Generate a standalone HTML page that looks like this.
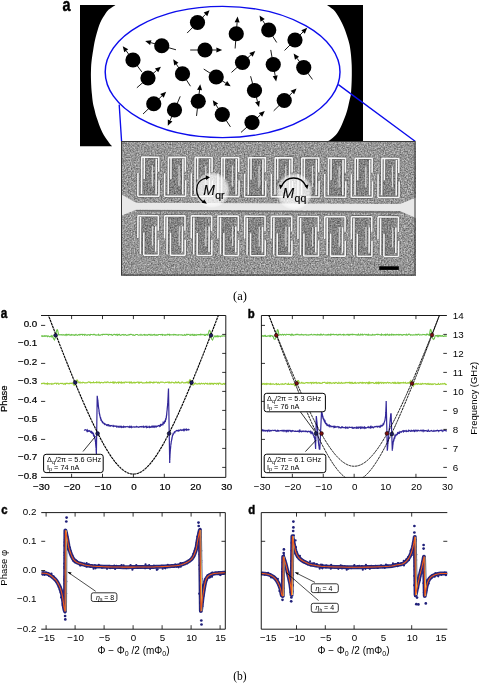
<!DOCTYPE html>
<html><head><meta charset="utf-8"><style>
html,body{margin:0;padding:0;background:#fff;width:480px;height:684px;overflow:hidden}
svg{display:block;will-change:transform}

</style></head><body>
<svg width="480" height="684" viewBox="0 0 480 684">
<defs>
<filter id="noise" x="0" y="0" width="100%" height="100%" color-interpolation-filters="sRGB">
<feTurbulence type="fractalNoise" baseFrequency="0.7" numOctaves="2" seed="4" result="t0"/><feGaussianBlur in="t0" stdDeviation="0.35" result="t"/>
<feColorMatrix in="t" type="matrix" values="1 0 0 0 0  1 0 0 0 0  1 0 0 0 0  0 0 0 0 1" result="g"/>
<feComponentTransfer in="g"><feFuncR type="linear" slope="0.68" intercept="0.25"/><feFuncG type="linear" slope="0.68" intercept="0.25"/><feFuncB type="linear" slope="0.68" intercept="0.25"/></feComponentTransfer>
</filter>
<radialGradient id="glow"><stop offset="0" stop-color="#fff" stop-opacity="0.8"/><stop offset="0.8" stop-color="#fff" stop-opacity="0.72"/><stop offset="0.92" stop-color="#fff" stop-opacity="0.45"/><stop offset="1" stop-color="#fff" stop-opacity="0"/></radialGradient>
<filter id="blur" x="-50%" y="-50%" width="200%" height="200%"><feGaussianBlur stdDeviation="2.2"/></filter>
</defs><text transform="translate(62.6 10.5) scale(0.8 1)" font-family='Liberation Sans' font-weight="bold" font-size="18" stroke="#000" stroke-width="0.45">a</text>
<path d="M80 5 L115.4 5 C114.22 5.83 110.10 8.33 108.30 10.00 C106.50 11.67 105.73 13.33 104.60 15.00 C103.47 16.67 102.38 18.33 101.50 20.00 C100.62 21.67 99.93 23.33 99.30 25.00 C98.67 26.67 98.21 28.33 97.70 30.00 C97.19 31.67 96.70 33.33 96.25 35.00 C95.80 36.67 95.38 38.33 95.00 40.00 C94.62 41.67 94.30 43.33 94.00 45.00 C93.70 46.67 93.47 48.33 93.20 50.00 C92.93 51.67 92.65 53.33 92.40 55.00 C92.15 56.67 91.90 58.33 91.70 60.00 C91.50 61.67 91.32 63.33 91.20 65.00 C91.08 66.67 91.05 68.33 91.00 70.00 C90.95 71.67 90.90 73.33 90.90 75.00 C90.90 76.67 90.95 78.33 91.00 80.00 C91.05 81.67 91.12 83.33 91.20 85.00 C91.28 86.67 91.37 88.33 91.50 90.00 C91.63 91.67 91.83 93.33 92.00 95.00 C92.17 96.67 92.28 98.33 92.50 100.00 C92.72 101.67 92.95 103.33 93.30 105.00 C93.65 106.67 94.18 108.33 94.60 110.00 C95.02 111.67 95.32 113.33 95.80 115.00 C96.28 116.67 96.93 118.33 97.50 120.00 C98.07 121.67 98.58 123.33 99.20 125.00 C99.83 126.67 100.49 128.33 101.25 130.00 C102.01 131.67 102.78 133.33 103.75 135.00 C104.72 136.67 105.92 138.33 107.10 140.00 C108.27 141.67 109.90 143.95 110.80 145.00 C111.70 146.05 112.22 146.08 112.50 146.30 L80 146.3 Z" fill="#000"/>
<path d="M363 5 L327.1 5 C328.21 5.83 332.02 8.33 333.75 10.00 C335.48 11.67 336.39 13.33 337.50 15.00 C338.61 16.67 339.50 18.33 340.40 20.00 C341.30 21.67 342.13 23.33 342.90 25.00 C343.67 26.67 344.37 28.33 345.00 30.00 C345.63 31.67 346.15 33.33 346.70 35.00 C347.25 36.67 347.82 38.33 348.30 40.00 C348.78 41.67 349.25 43.33 349.60 45.00 C349.95 46.67 350.17 48.33 350.40 50.00 C350.63 51.67 350.83 53.33 351.00 55.00 C351.17 56.67 351.28 58.33 351.40 60.00 C351.52 61.67 351.63 63.33 351.70 65.00 C351.77 66.67 351.78 68.33 351.80 70.00 C351.82 71.67 351.82 73.33 351.80 75.00 C351.78 76.67 351.75 78.33 351.70 80.00 C351.65 81.67 351.58 83.33 351.50 85.00 C351.42 86.67 351.32 88.33 351.20 90.00 C351.08 91.67 351.07 93.33 350.80 95.00 C350.53 96.67 349.98 98.33 349.60 100.00 C349.22 101.67 348.88 103.33 348.50 105.00 C348.12 106.67 347.77 108.33 347.30 110.00 C346.83 111.67 346.29 113.33 345.70 115.00 C345.11 116.67 344.42 118.33 343.75 120.00 C343.08 121.67 342.46 123.33 341.70 125.00 C340.94 126.67 340.18 128.33 339.20 130.00 C338.22 131.67 337.33 133.33 335.80 135.00 C334.27 136.67 331.52 138.90 330.00 140.00 C328.48 141.10 327.25 141.33 326.70 141.60 L363 141.6 Z" fill="#000"/>
<ellipse cx="222.6" cy="72" rx="117.4" ry="65.6" fill="#fff" stroke="#0c0cec" stroke-width="1.45"/>
<path d="M119.2 104.6 L121.6 141.5 M338.4 84.6 L415.4 141.5" stroke="#0c0cec" stroke-width="1.35" fill="none"/>
<path d="M187.12 33.05 L205.49 14.37" stroke="#000" stroke-width="0.9"/><path d="M209.56 10.24 L207.28 16.13 L203.71 12.62 Z" fill="#000"/><circle cx="197.5" cy="22.5" r="7.6" fill="#000"/><path d="M175.99 49.79 L150.78 42.64" stroke="#000" stroke-width="0.9"/><path d="M145.2 41.06 L151.46 40.23 L150.1 45.04 Z" fill="#000"/><circle cx="161.75" cy="45.75" r="7.6" fill="#000"/><path d="M190.2 50 L216.4 50" stroke="#000" stroke-width="0.9"/><path d="M222.2 50 L216.4 52.5 L216.4 47.5 Z" fill="#000"/><circle cx="205" cy="50" r="7.6" fill="#000"/><path d="M141.8 71.9 L126.22 50.84" stroke="#000" stroke-width="0.9"/><path d="M122.77 46.17 L128.23 49.35 L124.21 52.32 Z" fill="#000"/><circle cx="133" cy="60" r="7.6" fill="#000"/><path d="M235.11 48.51 L237.12 22.38" stroke="#000" stroke-width="0.9"/><path d="M237.57 16.6 L239.62 22.58 L234.63 22.19 Z" fill="#000"/><circle cx="236.25" cy="33.75" r="7.6" fill="#000"/><path d="M276.7 42.49 L262.63 20.38" stroke="#000" stroke-width="0.9"/><path d="M259.52 15.49 L264.74 19.04 L260.52 21.72 Z" fill="#000"/><circle cx="268.75" cy="30" r="7.6" fill="#000"/><path d="M284.53 50.47 L303.06 31.94" stroke="#000" stroke-width="0.9"/><path d="M307.16 27.84 L304.83 33.71 L301.29 30.17 Z" fill="#000"/><circle cx="295" cy="40" r="7.6" fill="#000"/><path d="M231.5 72.4 L250.97 54.87" stroke="#000" stroke-width="0.9"/><path d="M255.28 50.99 L252.65 56.73 L249.3 53.02 Z" fill="#000"/><circle cx="242.5" cy="62.5" r="7.6" fill="#000"/><path d="M270.74 49.91 L275.18 75.74" stroke="#000" stroke-width="0.9"/><path d="M276.16 81.45 L272.72 76.16 L277.64 75.31 Z" fill="#000"/><circle cx="273.25" cy="64.5" r="7.6" fill="#000"/><path d="M312.47 79.46 L297.03 58.29" stroke="#000" stroke-width="0.9"/><path d="M293.62 53.6 L299.05 56.82 L295.01 59.76 Z" fill="#000"/><circle cx="303.75" cy="67.5" r="7.6" fill="#000"/><path d="M136.89 87.78 L156.56 70.47" stroke="#000" stroke-width="0.9"/><path d="M160.91 66.64 L158.21 72.35 L154.91 68.59 Z" fill="#000"/><circle cx="148" cy="78" r="7.6" fill="#000"/><path d="M190.48 86.22 L176.35 64.15" stroke="#000" stroke-width="0.9"/><path d="M173.23 59.26 L178.46 62.8 L174.25 65.5 Z" fill="#000"/><circle cx="182.5" cy="73.75" r="7.6" fill="#000"/><path d="M203.72 69.04 L225.81 83.13" stroke="#000" stroke-width="0.9"/><path d="M230.7 86.25 L224.47 85.24 L227.16 81.02 Z" fill="#000"/><circle cx="216.2" cy="77" r="7.6" fill="#000"/><path d="M143.06 113.99 L161.98 95.87" stroke="#000" stroke-width="0.9"/><path d="M166.17 91.85 L163.71 97.67 L160.26 94.06 Z" fill="#000"/><circle cx="153.75" cy="103.75" r="7.6" fill="#000"/><path d="M180.22 96.35 L170.09 120.51" stroke="#000" stroke-width="0.9"/><path d="M167.85 125.86 L167.79 119.55 L172.4 121.48 Z" fill="#000"/><circle cx="174.5" cy="110" r="7.6" fill="#000"/><path d="M196.53 115.95 L199.57 89.93" stroke="#000" stroke-width="0.9"/><path d="M200.24 84.17 L202.05 90.22 L197.09 89.64 Z" fill="#000"/><circle cx="198.25" cy="101.25" r="7.6" fill="#000"/><path d="M230.45 126.85 L216.02 104.99" stroke="#000" stroke-width="0.9"/><path d="M212.83 100.14 L218.11 103.61 L213.93 106.36 Z" fill="#000"/><circle cx="222.3" cy="114.5" r="7.6" fill="#000"/><path d="M250.59 76.23 L257.51 101.49" stroke="#000" stroke-width="0.9"/><path d="M259.05 107.09 L255.1 102.16 L259.93 100.83 Z" fill="#000"/><circle cx="254.5" cy="90.5" r="7.6" fill="#000"/><path d="M273.68 110.85 L292.4 92.52" stroke="#000" stroke-width="0.9"/><path d="M296.54 88.47 L294.14 94.31 L290.65 90.74 Z" fill="#000"/><circle cx="284.25" cy="100.5" r="7.6" fill="#000"/><path d="M241 132.4 L260.47 114.87" stroke="#000" stroke-width="0.9"/><path d="M264.78 110.99 L262.15 116.73 L258.8 113.02 Z" fill="#000"/><circle cx="252" cy="122.5" r="7.6" fill="#000"/>
<g>
<rect x="121" y="141" width="294.5" height="134.5" fill="#8a8a8a"/>
<rect x="121" y="141" width="294.5" height="134.5" fill="#808080" filter="url(#noise)"/>
<g transform="rotate(0.3 121 206)">
<path d="M121.5 194.6 L136 202.6 L400 202.6 L416 196 L416 216.5 L400 209.6 L136 209.6 L121.5 215.8 Z" fill="#e8e8e8"/>
<path d="M136 210.6 L400 210.6" stroke="#6a6a6a" stroke-width="1.3"/>
<g fill="#000" opacity="0.12"><rect x="142.3" y="158.5" width="13" height="36"/><rect x="141.6" y="217" width="13" height="36.5"/><rect x="168.98" y="158.5" width="13" height="36"/><rect x="168.28" y="217" width="13" height="36.5"/><rect x="195.66" y="158.5" width="13" height="36"/><rect x="194.96" y="217" width="13" height="36.5"/><rect x="222.34" y="158.5" width="13" height="36"/><rect x="221.64" y="217" width="13" height="36.5"/><rect x="249.02" y="158.5" width="13" height="36"/><rect x="248.32" y="217" width="13" height="36.5"/><rect x="275.7" y="158.5" width="13" height="36"/><rect x="275" y="217" width="13" height="36.5"/><rect x="302.38" y="158.5" width="13" height="36"/><rect x="301.68" y="217" width="13" height="36.5"/><rect x="329.06" y="158.5" width="13" height="36"/><rect x="328.36" y="217" width="13" height="36.5"/><rect x="355.74" y="158.5" width="13" height="36"/><rect x="355.04" y="217" width="13" height="36.5"/><rect x="382.42" y="158.5" width="13" height="36"/><rect x="381.72" y="217" width="13" height="36.5"/></g>
<path d="M141.3 157L159 157M141.5 157L141.5 194M144.1 157L144.1 179M158.5 157L158.5 171.5M158.9 180L158.9 196M156 158.5L156 194M137.8 173L137.8 196M137.8 196L159 196M138 215.5L158.5 215.5M140.6 217L140.6 254M138 215.5L138 238M144 232.5L144 255M158.4 215.5L158.4 230.5M158.7 239.5L158.7 255M155.9 226L155.9 251.5M144 255L158.7 255M167.98 157L185.68 157M168.18 157L168.18 194M170.78 157L170.78 179M185.18 157L185.18 171.5M185.58 180L185.58 196M182.68 158.5L182.68 194M164.48 173L164.48 196M164.48 196L185.68 196M164.68 215.5L185.18 215.5M167.28 217L167.28 254M164.68 215.5L164.68 238M170.68 232.5L170.68 255M185.08 215.5L185.08 230.5M185.38 239.5L185.38 255M182.58 226L182.58 251.5M170.68 255L185.38 255M194.66 157L212.36 157M194.86 157L194.86 194M197.46 157L197.46 179M211.86 157L211.86 171.5M212.26 180L212.26 196M209.36 158.5L209.36 194M191.16 173L191.16 196M191.16 196L212.36 196M191.36 215.5L211.86 215.5M193.96 217L193.96 254M191.36 215.5L191.36 238M197.36 232.5L197.36 255M211.76 215.5L211.76 230.5M212.06 239.5L212.06 255M209.26 226L209.26 251.5M197.36 255L212.06 255M221.34 157L239.04 157M221.54 157L221.54 194M224.14 157L224.14 179M238.54 157L238.54 171.5M238.94 180L238.94 196M236.04 158.5L236.04 194M217.84 173L217.84 196M217.84 196L239.04 196M218.04 215.5L238.54 215.5M220.64 217L220.64 254M218.04 215.5L218.04 238M224.04 232.5L224.04 255M238.44 215.5L238.44 230.5M238.74 239.5L238.74 255M235.94 226L235.94 251.5M224.04 255L238.74 255M248.02 157L265.72 157M248.22 157L248.22 194M250.82 157L250.82 179M265.22 157L265.22 171.5M265.62 180L265.62 196M262.72 158.5L262.72 194M244.52 173L244.52 196M244.52 196L265.72 196M244.72 215.5L265.22 215.5M247.32 217L247.32 254M244.72 215.5L244.72 238M250.72 232.5L250.72 255M265.12 215.5L265.12 230.5M265.42 239.5L265.42 255M262.62 226L262.62 251.5M250.72 255L265.42 255M274.7 157L292.4 157M274.9 157L274.9 194M277.5 157L277.5 179M291.9 157L291.9 171.5M292.3 180L292.3 196M289.4 158.5L289.4 194M271.2 173L271.2 196M271.2 196L292.4 196M271.4 215.5L291.9 215.5M274 217L274 254M271.4 215.5L271.4 238M277.4 232.5L277.4 255M291.8 215.5L291.8 230.5M292.1 239.5L292.1 255M289.3 226L289.3 251.5M277.4 255L292.1 255M301.38 157L319.08 157M301.58 157L301.58 194M304.18 157L304.18 179M318.58 157L318.58 171.5M318.98 180L318.98 196M316.08 158.5L316.08 194M297.88 173L297.88 196M297.88 196L319.08 196M298.08 215.5L318.58 215.5M300.68 217L300.68 254M298.08 215.5L298.08 238M304.08 232.5L304.08 255M318.48 215.5L318.48 230.5M318.78 239.5L318.78 255M315.98 226L315.98 251.5M304.08 255L318.78 255M328.06 157L345.76 157M328.26 157L328.26 194M330.86 157L330.86 179M345.26 157L345.26 171.5M345.66 180L345.66 196M342.76 158.5L342.76 194M324.56 173L324.56 196M324.56 196L345.76 196M324.76 215.5L345.26 215.5M327.36 217L327.36 254M324.76 215.5L324.76 238M330.76 232.5L330.76 255M345.16 215.5L345.16 230.5M345.46 239.5L345.46 255M342.66 226L342.66 251.5M330.76 255L345.46 255M354.74 157L372.44 157M354.94 157L354.94 194M357.54 157L357.54 179M371.94 157L371.94 171.5M372.34 180L372.34 196M369.44 158.5L369.44 194M351.24 173L351.24 196M351.24 196L372.44 196M351.44 215.5L371.94 215.5M354.04 217L354.04 254M351.44 215.5L351.44 238M357.44 232.5L357.44 255M371.84 215.5L371.84 230.5M372.14 239.5L372.14 255M369.34 226L369.34 251.5M357.44 255L372.14 255M381.42 157L399.12 157M381.62 157L381.62 194M384.22 157L384.22 179M398.62 157L398.62 171.5M399.02 180L399.02 196M396.12 158.5L396.12 194M377.92 173L377.92 196M377.92 196L399.12 196M378.12 215.5L398.62 215.5M380.72 217L380.72 254M378.12 215.5L378.12 238M384.12 232.5L384.12 255M398.52 215.5L398.52 230.5M398.82 239.5L398.82 255M396.02 226L396.02 251.5M384.12 255L398.82 255" stroke="#404040" stroke-width="3.2" fill="none" opacity="0.5"/>
<path d="M141.3 157L159 157M141.5 157L141.5 194M144.1 157L144.1 179M158.5 157L158.5 171.5M158.9 180L158.9 196M156 158.5L156 194M137.8 173L137.8 196M137.8 196L159 196M138 215.5L158.5 215.5M140.6 217L140.6 254M138 215.5L138 238M144 232.5L144 255M158.4 215.5L158.4 230.5M158.7 239.5L158.7 255M155.9 226L155.9 251.5M144 255L158.7 255M167.98 157L185.68 157M168.18 157L168.18 194M170.78 157L170.78 179M185.18 157L185.18 171.5M185.58 180L185.58 196M182.68 158.5L182.68 194M164.48 173L164.48 196M164.48 196L185.68 196M164.68 215.5L185.18 215.5M167.28 217L167.28 254M164.68 215.5L164.68 238M170.68 232.5L170.68 255M185.08 215.5L185.08 230.5M185.38 239.5L185.38 255M182.58 226L182.58 251.5M170.68 255L185.38 255M194.66 157L212.36 157M194.86 157L194.86 194M197.46 157L197.46 179M211.86 157L211.86 171.5M212.26 180L212.26 196M209.36 158.5L209.36 194M191.16 173L191.16 196M191.16 196L212.36 196M191.36 215.5L211.86 215.5M193.96 217L193.96 254M191.36 215.5L191.36 238M197.36 232.5L197.36 255M211.76 215.5L211.76 230.5M212.06 239.5L212.06 255M209.26 226L209.26 251.5M197.36 255L212.06 255M221.34 157L239.04 157M221.54 157L221.54 194M224.14 157L224.14 179M238.54 157L238.54 171.5M238.94 180L238.94 196M236.04 158.5L236.04 194M217.84 173L217.84 196M217.84 196L239.04 196M218.04 215.5L238.54 215.5M220.64 217L220.64 254M218.04 215.5L218.04 238M224.04 232.5L224.04 255M238.44 215.5L238.44 230.5M238.74 239.5L238.74 255M235.94 226L235.94 251.5M224.04 255L238.74 255M248.02 157L265.72 157M248.22 157L248.22 194M250.82 157L250.82 179M265.22 157L265.22 171.5M265.62 180L265.62 196M262.72 158.5L262.72 194M244.52 173L244.52 196M244.52 196L265.72 196M244.72 215.5L265.22 215.5M247.32 217L247.32 254M244.72 215.5L244.72 238M250.72 232.5L250.72 255M265.12 215.5L265.12 230.5M265.42 239.5L265.42 255M262.62 226L262.62 251.5M250.72 255L265.42 255M274.7 157L292.4 157M274.9 157L274.9 194M277.5 157L277.5 179M291.9 157L291.9 171.5M292.3 180L292.3 196M289.4 158.5L289.4 194M271.2 173L271.2 196M271.2 196L292.4 196M271.4 215.5L291.9 215.5M274 217L274 254M271.4 215.5L271.4 238M277.4 232.5L277.4 255M291.8 215.5L291.8 230.5M292.1 239.5L292.1 255M289.3 226L289.3 251.5M277.4 255L292.1 255M301.38 157L319.08 157M301.58 157L301.58 194M304.18 157L304.18 179M318.58 157L318.58 171.5M318.98 180L318.98 196M316.08 158.5L316.08 194M297.88 173L297.88 196M297.88 196L319.08 196M298.08 215.5L318.58 215.5M300.68 217L300.68 254M298.08 215.5L298.08 238M304.08 232.5L304.08 255M318.48 215.5L318.48 230.5M318.78 239.5L318.78 255M315.98 226L315.98 251.5M304.08 255L318.78 255M328.06 157L345.76 157M328.26 157L328.26 194M330.86 157L330.86 179M345.26 157L345.26 171.5M345.66 180L345.66 196M342.76 158.5L342.76 194M324.56 173L324.56 196M324.56 196L345.76 196M324.76 215.5L345.26 215.5M327.36 217L327.36 254M324.76 215.5L324.76 238M330.76 232.5L330.76 255M345.16 215.5L345.16 230.5M345.46 239.5L345.46 255M342.66 226L342.66 251.5M330.76 255L345.46 255M354.74 157L372.44 157M354.94 157L354.94 194M357.54 157L357.54 179M371.94 157L371.94 171.5M372.34 180L372.34 196M369.44 158.5L369.44 194M351.24 173L351.24 196M351.24 196L372.44 196M351.44 215.5L371.94 215.5M354.04 217L354.04 254M351.44 215.5L351.44 238M357.44 232.5L357.44 255M371.84 215.5L371.84 230.5M372.14 239.5L372.14 255M369.34 226L369.34 251.5M357.44 255L372.14 255M381.42 157L399.12 157M381.62 157L381.62 194M384.22 157L384.22 179M398.62 157L398.62 171.5M399.02 180L399.02 196M396.12 158.5L396.12 194M377.92 173L377.92 196M377.92 196L399.12 196M378.12 215.5L398.62 215.5M380.72 217L380.72 254M378.12 215.5L378.12 238M384.12 232.5L384.12 255M398.52 215.5L398.52 230.5M398.82 239.5L398.82 255M396.02 226L396.02 251.5M384.12 255L398.82 255" stroke="#f6f6f6" stroke-width="1.6" fill="none"/>
<path d="M152.2 165L152.2 186M152.7 226L152.7 245.5M178.88 165L178.88 186M179.38 226L179.38 245.5M205.56 165L205.56 186M206.06 226L206.06 245.5M232.24 165L232.24 186M232.74 226L232.74 245.5M258.92 165L258.92 186M259.42 226L259.42 245.5M285.6 165L285.6 186M286.1 226L286.1 245.5M312.28 165L312.28 186M312.78 226L312.78 245.5M338.96 165L338.96 186M339.46 226L339.46 245.5M365.64 165L365.64 186M366.14 226L366.14 245.5M392.32 165L392.32 186M392.82 226L392.82 245.5" stroke="#dcdcdc" stroke-width="1.1" fill="none"/>
</g>
<circle cx="212" cy="190" r="18" fill="url(#glow)"/>
<circle cx="294.2" cy="191.5" r="18.5" fill="url(#glow)"/>
<path d="M207.5 177.6 C200 179 196.5 184 196.6 189.5 C196.7 195.5 200 200 204.5 202.5" stroke="#000" stroke-width="1.3" fill="none"/>
<path d="M210 177.2 L205.6 175.2 L206.1 180 Z M206.9 203.8 L201.7 202.8 L204.3 199.5 Z" fill="#000"/>
<path d="M281 186.8 C284 180.5 289 178 293.6 178 C298.5 178 303.5 180.5 306.5 186.8" stroke="#000" stroke-width="1.3" fill="none"/>
<path d="M280.2 189.3 L279 184.5 L283 185.6 Z M307.3 189.3 L308.5 184.5 L304.5 185.6 Z" fill="#000"/>
<text x="203.3" y="195.4" font-family='Liberation Sans' font-style="italic" font-size="14" stroke="#000" stroke-width="0.12">M</text>
<text x="215.2" y="199.2" font-family='Liberation Sans' font-size="10.5" stroke="#000" stroke-width="0.2">qr</text>
<text x="282.4" y="198.4" font-family='Liberation Sans' font-style="italic" font-size="14" stroke="#000" stroke-width="0.12">M</text>
<text x="294.6" y="202.2" font-family='Liberation Sans' font-size="10.5" stroke="#000" stroke-width="0.2">qq</text>
<rect x="379.2" y="266.3" width="19.6" height="3.6" fill="#000"/>
<rect x="121.5" y="141.5" width="293.5" height="133.5" fill="none" stroke="#3a3a3a" stroke-width="1"/>
</g>
<text x="240" y="300.2" text-anchor="middle" font-family='Liberation Serif' font-size="12.5">(a)</text>
<text transform="translate(0.7 318.2) scale(0.78 1)" font-family='Liberation Sans' font-weight="bold" font-size="15.2" stroke="#000" stroke-width="0.45">a</text>
<defs><clipPath id="ca"><rect x="41" y="315.5" width="184.8" height="161.89999999999998"/></clipPath>
<clipPath id="cb"><rect x="261.4" y="315.5" width="185.5" height="161.9"/></clipPath>
<clipPath id="cc"><rect x="41.25" y="512.6" width="184.05" height="116.6"/></clipPath>
<clipPath id="cd"><rect x="261.25" y="512.6" width="186.05" height="116.6"/></clipPath></defs>
<g clip-path="url(#ca)"><path d="M41 336.11 L41.5 335.92 L42 336.47 L42.5 335.83 L43 336.34 L43.5 336.15 L44 335.81 L44.5 336.31 L45 335.79 L45.5 336.23 L46 335.83 L46.5 335.85 L47 336.22 L47.5 336.66 L48 335.89 L48.5 336 L49 336.44 L49.5 336.79 L50 336.38 L50.5 336.19 L51 336.82 L51.5 335.8 L52 336.69 L52.5 336.07 L53 337.25 L53.5 338.59 L54 339.52 L54.5 340 L55 338.42 L55.5 337.41 L56 333.76 L56.5 330.92 L57 329.89 L57.5 329.89 L58 331.99 L58.5 334.48 L59 335 L59.5 334.72 L60 334.6 L60.5 334.89 L61 334.75 L61.5 334.58 L62 335.12 L62.5 335.02 L63 334.52 L63.5 334.88 L64 334.83 L64.5 335.21 L65 335.05 L65.5 334.57 L66 335.33 L66.5 334.38 L67 334.71 L67.5 335.08 L68 334.42 L68.5 334.79 L69 334.29 L69.5 334.99 L70 335.09 L70.5 334.88 L71 335.21 L71.5 334.6 L72 335.01 L72.5 334.9 L73 334.89 L73.5 334.75 L74 335.17 L74.5 335.29 L75 334.77 L75.5 334.98 L76 334.32 L76.5 335.02 L77 334.96 L77.5 335.34 L78 335.15 L78.5 334.56 L79 334.67 L79.5 334.99 L80 334.27 L80.5 334.76 L81 334.43 L81.5 334.38 L82 334.31 L82.5 335.1 L83 334.39 L83.5 334.52 L84 334.68 L84.5 335.21 L85 334.34 L85.5 334.74 L86 334.85 L86.5 335.22 L87 335.15 L87.5 335.2 L88 334.56 L88.5 334.71 L89 334.64 L89.5 335.22 L90 335.3 L90.5 334.42 L91 334.44 L91.5 334.51 L92 334.51 L92.5 334.78 L93 334.9 L93.5 334.54 L94 334.25 L94.5 334.71 L95 334.66 L95.5 334.87 L96 335.3 L96.5 335.01 L97 334.82 L97.5 334.93 L98 334.99 L98.5 334.31 L99 335.24 L99.5 335.11 L100 335.21 L100.5 335.13 L101 334.68 L101.5 334.69 L102 334.36 L102.5 334.95 L103 334.32 L103.5 334.32 L104 334.48 L104.5 334.43 L105 334.62 L105.5 334.31 L106 334.25 L106.5 334.42 L107 334.36 L107.5 334.65 L108 334.28 L108.5 335.21 L109 334.93 L109.5 334.41 L110 334.53 L110.5 334.63 L111 334.65 L111.5 334.39 L112 335.18 L112.5 335.34 L113 334.76 L113.5 334.78 L114 334.34 L114.5 334.36 L115 334.63 L115.5 334.54 L116 335.16 L116.5 334.43 L117 334.28 L117.5 335.3 L118 334.83 L118.5 334.41 L119 334.85 L119.5 334.28 L120 334.83 L120.5 335.33 L121 335.2 L121.5 335.02 L122 334.54 L122.5 334.65 L123 334.43 L123.5 335.1 L124 334.84 L124.5 335.11 L125 334.61 L125.5 334.5 L126 335.14 L126.5 335.33 L127 335.19 L127.5 335.14 L128 335.15 L128.5 335.06 L129 334.5 L129.5 334.82 L130 334.64 L130.5 334.28 L131 334.28 L131.5 334.56 L132 334.54 L132.5 335.01 L133 335.3 L133.5 334.74 L134 335.28 L134.5 335.34 L135 335.3 L135.5 334.65 L136 334.49 L136.5 334.5 L137 334.47 L137.5 334.47 L138 334.94 L138.5 335.24 L139 335.17 L139.5 334.78 L140 334.97 L140.5 335.13 L141 334.34 L141.5 334.98 L142 335.25 L142.5 335.11 L143 335.08 L143.5 334.78 L144 334.45 L144.5 335.12 L145 334.62 L145.5 335.13 L146 335.32 L146.5 334.69 L147 334.69 L147.5 335.29 L148 335.05 L148.5 334.44 L149 334.39 L149.5 334.42 L150 335.25 L150.5 335.14 L151 334.41 L151.5 335.16 L152 335.33 L152.5 334.97 L153 334.64 L153.5 334.85 L154 334.39 L154.5 334.27 L155 335.32 L155.5 334.96 L156 334.83 L156.5 335.28 L157 334.73 L157.5 335.21 L158 335.16 L158.5 334.48 L159 334.53 L159.5 334.57 L160 334.51 L160.5 334.9 L161 334.54 L161.5 334.71 L162 334.39 L162.5 335.25 L163 334.64 L163.5 334.75 L164 334.89 L164.5 335.24 L165 334.71 L165.5 335.26 L166 334.8 L166.5 334.84 L167 334.83 L167.5 334.27 L168 334.73 L168.5 334.45 L169 334.25 L169.5 335.13 L170 334.44 L170.5 334.77 L171 335.05 L171.5 334.86 L172 334.61 L172.5 334.82 L173 334.86 L173.5 335.11 L174 334.37 L174.5 334.87 L175 334.52 L175.5 334.55 L176 335.1 L176.5 334.81 L177 334.87 L177.5 335.09 L178 335.25 L178.5 334.74 L179 334.92 L179.5 334.81 L180 334.81 L180.5 335.01 L181 334.75 L181.5 334.84 L182 334.78 L182.5 335.29 L183 335.02 L183.5 335.21 L184 335.29 L184.5 334.54 L185 334.87 L185.5 335.29 L186 335.17 L186.5 334.4 L187 334.38 L187.5 334.74 L188 334.33 L188.5 334.51 L189 334.33 L189.5 334.99 L190 335.11 L190.5 335.24 L191 334.42 L191.5 335.04 L192 334.98 L192.5 334.41 L193 335.22 L193.5 335.31 L194 334.49 L194.5 335.3 L195 334.69 L195.5 334.79 L196 335.34 L196.5 335.17 L197 334.43 L197.5 334.72 L198 334.82 L198.5 334.62 L199 334.47 L199.5 334.6 L200 335.04 L200.5 334.27 L201 334.86 L201.5 334.73 L202 334.27 L202.5 334.61 L203 334.94 L203.5 334.81 L204 334.32 L204.5 335.33 L205 335.12 L205.5 335.32 L206 334.37 L206.5 334.54 L207 334.29 L207.5 335.11 L208 334.55 L208.5 333.2 L209 330.97 L209.5 330.29 L210 330.72 L210.5 332.21 L211 336.26 L211.5 338.71 L212 339.46 L212.5 340.02 L213 338.94 L213.5 337.76 L214 336.85 L214.5 336.22 L215 335.83 L215.5 336.78 L216 336.45 L216.5 336.63 L217 335.84 L217.5 336.69 L218 335.82 L218.5 336.7 L219 336.25 L219.5 336.12 L220 336.36 L220.5 336.77 L221 336.04 L221.5 335.89 L222 336.33 L222.5 336.01 L223 335.87 L223.5 335.93 L224 335.81 L224.5 335.97 L225 336.09 L225.5 336.09" stroke="#6cc24a" stroke-width="1.1" fill="none"/><path d="M41 384.01 L41.5 383.45 L42 383.7 L42.5 383.31 L43 383.52 L43.5 383.12 L44 383.4 L44.5 383.12 L45 383.98 L45.5 383.76 L46 383.33 L46.5 383.67 L47 384.22 L47.5 383.23 L48 384.08 L48.5 383.62 L49 383.69 L49.5 384.1 L50 383.57 L50.5 383.71 L51 383.93 L51.5 384.28 L52 383.51 L52.5 384.1 L53 383.95 L53.5 383.86 L54 383.59 L54.5 383.52 L55 383.17 L55.5 383.26 L56 383.18 L56.5 383.99 L57 383.41 L57.5 383.3 L58 383.2 L58.5 384.11 L59 384.14 L59.5 383.9 L60 383.44 L60.5 383.39 L61 383.45 L61.5 383.65 L62 383.29 L62.5 383.63 L63 383.42 L63.5 384.25 L64 384.27 L64.5 383.76 L65 383.39 L65.5 384.26 L66 383.47 L66.5 383.53 L67 383.1 L67.5 383.56 L68 383.67 L68.5 383.7 L69 383.34 L69.5 383.71 L70 383.11 L70.5 383.42 L71 383.21 L71.5 383.58 L72 383.15 L72.5 383.13 L73 384.04 L73.5 384.54 L74 385.27 L74.5 385.17 L75 385.06 L75.5 384.32 L76 382.16 L76.5 381.08 L77 379.89 L77.5 380.08 L78 381.92 L78.5 382.08 L79 382.77 L79.5 382.67 L80 381.95 L80.5 382.9 L81 382.97 L81.5 382.65 L82 382.78 L82.5 382.87 L83 382.07 L83.5 382.53 L84 382.51 L84.5 382.9 L85 382.87 L85.5 382.89 L86 382.6 L86.5 382.97 L87 382.72 L87.5 382.73 L88 382.18 L88.5 381.94 L89 382.06 L89.5 382.33 L90 382.03 L90.5 382.9 L91 382.57 L91.5 382.65 L92 382.65 L92.5 382.72 L93 382.49 L93.5 381.9 L94 382.86 L94.5 382.8 L95 382.5 L95.5 382.54 L96 382.69 L96.5 381.98 L97 382.78 L97.5 382.2 L98 381.99 L98.5 382.22 L99 382.78 L99.5 382.15 L100 382.79 L100.5 383.07 L101 382.49 L101.5 382.36 L102 382.47 L102.5 382.72 L103 382.82 L103.5 382.64 L104 382.67 L104.5 381.99 L105 382.08 L105.5 382.2 L106 382.79 L106.5 382.27 L107 382.58 L107.5 381.91 L108 381.97 L108.5 382.22 L109 382.71 L109.5 382.73 L110 382.71 L110.5 382.25 L111 382.52 L111.5 382.46 L112 382.46 L112.5 382.04 L113 382.97 L113.5 382.14 L114 383.07 L114.5 383.02 L115 381.92 L115.5 382.45 L116 382.88 L116.5 383.06 L117 382.44 L117.5 382.22 L118 382.15 L118.5 383.03 L119 382.15 L119.5 382.6 L120 382.07 L120.5 382.53 L121 383.04 L121.5 382.06 L122 382.88 L122.5 382.51 L123 382.96 L123.5 382.74 L124 382.18 L124.5 382.98 L125 382.48 L125.5 381.93 L126 381.9 L126.5 382.49 L127 382.44 L127.5 382.26 L128 382.07 L128.5 382.31 L129 382.28 L129.5 382.91 L130 381.9 L130.5 382.8 L131 382.91 L131.5 382.04 L132 383.01 L132.5 382.76 L133 382.98 L133.5 382.25 L134 382.35 L134.5 382.37 L135 383.1 L135.5 382.61 L136 382.33 L136.5 382.41 L137 382.23 L137.5 381.96 L138 382.02 L138.5 382.9 L139 382.24 L139.5 383.02 L140 382.2 L140.5 382.22 L141 382.51 L141.5 382.13 L142 382.35 L142.5 383.05 L143 382.96 L143.5 382.87 L144 382.66 L144.5 383 L145 383.03 L145.5 382.56 L146 382.76 L146.5 381.96 L147 382.78 L147.5 382.44 L148 382.8 L148.5 382.67 L149 382.24 L149.5 381.96 L150 383.01 L150.5 382.05 L151 382.47 L151.5 382.31 L152 382.26 L152.5 382.79 L153 383.07 L153.5 382.21 L154 382.69 L154.5 382.26 L155 382.57 L155.5 382.37 L156 382.1 L156.5 382.09 L157 382.15 L157.5 382.99 L158 382.5 L158.5 382.16 L159 382.99 L159.5 383.1 L160 382.44 L160.5 382.07 L161 382.13 L161.5 382.01 L162 382.31 L162.5 382.01 L163 382.19 L163.5 382.21 L164 382.58 L164.5 382.96 L165 382.8 L165.5 382.4 L166 382.4 L166.5 382.53 L167 382.35 L167.5 382.31 L168 381.97 L168.5 382.23 L169 383.06 L169.5 382.05 L170 382.5 L170.5 382.66 L171 382.94 L171.5 382.16 L172 382.23 L172.5 382.2 L173 382.38 L173.5 382.44 L174 383.04 L174.5 382.92 L175 382.95 L175.5 381.93 L176 381.94 L176.5 382.75 L177 382.97 L177.5 382.47 L178 382.6 L178.5 381.9 L179 382.37 L179.5 383.01 L180 382.89 L180.5 382.93 L181 383.07 L181.5 382.2 L182 382.03 L182.5 382.09 L183 382.53 L183.5 382.72 L184 383.03 L184.5 382.77 L185 382.68 L185.5 382.82 L186 382.45 L186.5 382.56 L187 381.95 L187.5 382.84 L188 382.18 L188.5 383 L189 381.79 L189.5 380.21 L190 379.55 L190.5 380.14 L191 381.78 L191.5 384.23 L192 384.19 L192.5 384.57 L193 385.22 L193.5 385.05 L194 384.27 L194.5 383.37 L195 383.82 L195.5 383.11 L196 383.46 L196.5 383.65 L197 384.25 L197.5 383.87 L198 384.16 L198.5 383.67 L199 383.38 L199.5 383.4 L200 384.25 L200.5 383.95 L201 383.47 L201.5 383.13 L202 383.7 L202.5 383.91 L203 383.6 L203.5 383.41 L204 383.9 L204.5 384.21 L205 383.37 L205.5 383.14 L206 383.51 L206.5 383.6 L207 383.92 L207.5 383.34 L208 384.06 L208.5 383.99 L209 383.71 L209.5 383.35 L210 384.26 L210.5 383.47 L211 384.08 L211.5 383.38 L212 383.37 L212.5 384.01 L213 383.45 L213.5 384.24 L214 383.69 L214.5 383.32 L215 383.37 L215.5 383.6 L216 383.9 L216.5 384.24 L217 383.28 L217.5 383.57 L218 383.36 L218.5 384.27 L219 383.27 L219.5 383.16 L220 383.17 L220.5 383.57 L221 384.18 L221.5 384.16 L222 383.98 L222.5 384.3 L223 384.22 L223.5 383.5 L224 383.32 L224.5 384.22 L225 384 L225.5 383.14" stroke="#9ccf38" stroke-width="1.1" fill="none"/><path d="M83.9 430 L84.27 430.06 L84.64 430.11 L84.99 429.98 L85.34 429.85 L85.69 429.72 L86.08 430.09 L86.47 430.24 L86.86 430.97 L87.2 430.13 L87.55 431.13 L87.9 430.38 L88.2 430.63 L88.5 431.23 L88.8 431.32 L89.09 430.99 L89.38 430.67 L89.68 431.24 L90.08 431.3 L90.48 432.07 L90.84 431.47 L91.2 431.85 L91.5 432.66 L91.81 431.92 L92.07 432.58 L92.33 433.26 L92.55 433.47 L92.78 432.94 L92.99 433.21 L93.2 433.52 L93.39 434.74 L93.58 434.28 L93.75 435.1 L93.91 435.54 L94.06 435.25 L94.21 435.5 L94.36 436.68 L94.5 436.73 L94.59 436.66 L94.68 437.47 L94.77 437.35 L94.86 437.66 L94.94 437.71 L95.03 438.88 L95.08 439.39 L95.14 439.42 L95.2 440.1 L95.26 439.42 L95.31 440.02 L95.36 440.66 L95.41 441.56 L95.45 441.93 L95.5 441.68 L95.54 441.93 L95.57 442.54 L95.61 443.01 L95.64 443.9 L95.68 443.48 L95.72 444.57 L95.75 444.91 L95.79 445.45 L95.82 445.84 L95.85 446.1 L95.88 446.24 L95.92 446.68 L95.95 447.18 L95.98 448.09 L96.01 447.76 L96.04 448.32 L96.07 449.36 L96.1 449.23 L96.13 449.46 L96.16 449.85 L96.18 450.85 L96.21 451.02 L96.24 452.17 L96.27 452.46 L96.29 452.97 L96.32 452.56 L96.35 453.21 L96.37 453.61 L96.4 454 L97.2 395.8 L97.25 396.18 L97.3 396.55 L97.35 396.84 L97.4 397.47 L97.46 397.93 L97.51 398.42 L97.56 398.94 L97.61 399.1 L97.66 398.86 L97.7 400.01 L97.75 399.77 L97.8 400.43 L97.85 400.63 L97.9 401.44 L97.95 401.26 L98 401.72 L98.04 402.06 L98.08 402.31 L98.11 403.46 L98.15 403.46 L98.2 403.62 L98.24 404.12 L98.28 405.21 L98.33 405.12 L98.37 405.26 L98.42 406.34 L98.46 406.54 L98.51 407.29 L98.55 406.69 L98.6 407.47 L98.65 408.21 L98.69 408.6 L98.74 409.04 L98.79 408.44 L98.84 409.08 L98.89 409.29 L98.94 409.77 L99 411.03 L99.05 411 L99.11 411.79 L99.16 411.57 L99.22 412.51 L99.28 412.44 L99.34 412.63 L99.4 413.59 L99.47 414.21 L99.55 413.71 L99.62 414.68 L99.7 415.13 L99.78 415.03 L99.85 415.55 L99.93 415.64 L100.01 416.05 L100.12 416.5 L100.22 417.27 L100.33 417.72 L100.44 417.57 L100.55 417.7 L100.66 418.39 L100.78 419.08 L100.89 418.85 L101 419.29 L101.14 419.57 L101.28 420.61 L101.41 420.65 L101.54 420.44 L101.7 420.77 L101.87 421.38 L102.14 421.85 L102.4 422.25 L102.65 421.88 L102.89 422.18 L103.14 423 L103.43 422.91 L103.73 423.01 L104.03 423.27 L104.38 424.2 L104.73 423.71 L105.08 424.21 L105.48 424.17 L105.89 424.42 L106.3 425.1 L106.66 425.35 L107.02 424.77 L107.39 424.69 L107.75 425.38 L108.16 424.89 L108.57 424.76 L108.99 425.83 L109.4 425.38 L109.84 425.89 L110.28 425.51 L110.71 426.1 L111.15 425.7 L111.59 425.44 L112.03 425.34 L112.46 425.99 L112.9 426.15 L113.3 426.51 L113.7 425.66 L114.1 426.3 L114.5 426.08 L114.89 426.28 L115.28 425.93 L115.66 426.13 L116.05 426.44 L116.49 426.92 L116.92 426.06 L117.36 426.52 L117.8 426.9 L118.24 427.11 L118.68 426.29 L119.12 426.24 L119.56 427.16 L120 427.22 L120.41 426.7 L120.82 426.24 L121.23 427.22 L121.63 426.64 L122.04 427.23 L122.45 426.93 L122.86 427.17 L123.28 426.45 L123.69 427.15 L124.11 426.54 L124.53 426.75 L124.94 427.25 L125.36 427.24 L125.78 426.54 L126.19 426.59 L126.63 426.8 L127.07 426.94 L127.5 426.8 L127.94 426.52 L128.37 426.66 L128.81 427.19 L129.25 427.39 L129.68 426.46 L130.1 427.04 L130.51 427.26 L130.93 426.47 L131.34 427.35 L131.76 426.57 L132.17 427.1 L132.59 427.05 L133 427.14 L133.45 426.79 L133.89 426.91 L134.34 427.09 L134.78 426.92 L135.23 427.18 L135.67 426.95 L136.12 426.94 L136.56 426.48 L136.99 427.13 L137.43 426.99 L137.87 426.7 L138.31 427.28 L138.75 427.3 L139.19 426.94 L139.61 426.63 L140.04 426.95 L140.46 426.54 L140.89 426.56 L141.31 426.88 L141.74 426.5 L142.16 426.88 L142.57 426.95 L142.97 426.43 L143.38 427.08 L143.78 426.46 L144.19 427.17 L144.59 427.21 L145 426.91 L145.39 426.4 L145.79 426.89 L146.18 426.75 L146.58 427.37 L146.97 426.47 L147.36 427.25 L147.76 427.4 L148.2 427.1 L148.65 427.19 L149.1 426.49 L149.54 427.35 L149.99 426.81 L150.44 427.31 L150.85 427.25 L151.26 426.41 L151.67 427.08 L152.08 427.23 L152.49 426.26 L152.9 426.56 L153.32 426.98 L153.74 426.3 L154.16 427.09 L154.58 426.38 L155 426.95 L155.41 426.16 L155.82 426.52 L156.23 426.93 L156.64 426.11 L157.07 426.1 L157.5 426.29 L157.92 426.02 L158.28 425.62 L158.64 425.69 L158.99 425.58 L159.33 426.31 L159.66 425.91 L160 426.03 L160.31 425.09 L160.63 425.63 L160.94 424.75 L161.21 425.04 L161.48 425 L161.75 424.53 L161.99 424.9 L162.24 424.35 L162.48 424.19 L162.72 424.29 L162.96 423.2 L163.2 423.94 L163.44 423.3 L163.68 422.8 L163.92 423 L164.15 422.15 L164.39 422.69 L164.62 421.97 L164.83 421.4 L165.04 421.51 L165.26 420.82 L165.39 420.19 L165.53 420.46 L165.66 419.35 L165.8 419.85 L165.89 418.85 L165.97 418.89 L166.06 418.89 L166.14 418.07 L166.23 417.78 L166.28 417.01 L166.34 416.28 L166.4 415.94 L166.45 415.68 L166.51 415.81 L166.56 415.23 L166.61 414.9 L166.66 414.9 L166.7 413.65 L166.75 413.33 L166.79 413.39 L166.84 412.28 L166.88 411.84 L166.93 411.81 L166.97 411.12 L167.01 410.98 L167.06 410.41 L167.1 410.39 L167.14 409.99 L167.18 409.15 L167.22 409.2 L167.26 408.63 L167.3 407.84 L167.34 408.31 L167.37 407.13 L167.41 406.6 L167.44 406.12 L167.48 406.29 L167.51 406.12 L167.54 405.6 L167.57 404.75 L167.6 404.16 L167.63 403.45 L167.67 403.71 L167.7 403.19 L167.73 402.52 L167.75 402.4 L167.78 401.73 L167.81 401.82 L167.84 401.15 L167.87 400.17 L167.9 400.44 L167.93 399.06 L167.95 399.16 L167.98 398.59 L168 397.96 L168.03 397.33 L168.05 397.68 L168.08 396.4 L168.1 396.58 L168.12 396.59 L168.14 395.3 L168.16 394.94 L168.19 394.98 L168.21 394.45 L168.23 394.18 L168.25 393.95 L168.27 392.82 L168.29 392.54 L168.31 392.1 L168.33 391.39 L168.35 391.88 L168.38 391.34 L168.4 390.83 L168.42 389.63 L168.44 390.14 L168.46 389.34 L168.48 388.92 L168.5 388.5 L169.7 463 L169.72 462.59 L169.73 462.18 L169.75 461.48 L169.77 460.86 L169.78 460.77 L169.8 460.81 L169.82 460.32 L169.83 460.07 L169.85 459.5 L169.87 458.59 L169.88 458.48 L169.9 457.93 L169.92 457.92 L169.94 457.22 L169.95 456.54 L169.97 456.55 L169.99 456.51 L170.01 455.29 L170.02 455.62 L170.04 454.26 L170.06 454.13 L170.09 453.71 L170.11 453.87 L170.13 453.69 L170.15 453.07 L170.18 452.21 L170.2 452.42 L170.23 451.44 L170.26 450.96 L170.29 451.32 L170.32 450.64 L170.35 450.33 L170.37 449.92 L170.41 449.86 L170.45 448.89 L170.49 448.88 L170.53 448.32 L170.57 448.08 L170.61 447.24 L170.65 447.18 L170.69 446.63 L170.74 445.96 L170.78 445.47 L170.82 445.57 L170.87 444.61 L170.91 445.17 L170.96 443.97 L171 443.48 L171.06 443.14 L171.12 443.62 L171.18 442.55 L171.24 441.91 L171.3 441.39 L171.36 441.01 L171.42 441.33 L171.49 440.87 L171.55 440.58 L171.62 440.26 L171.68 439.16 L171.75 439.38 L171.83 438.7 L171.92 438.78 L172 438.35 L172.07 438.08 L172.13 436.82 L172.2 437.35 L172.28 436.98 L172.36 436.58 L172.47 435.27 L172.59 434.99 L172.73 434.62 L172.86 434.26 L173 434.88 L173.2 434.53 L173.39 434.03 L173.59 433.92 L173.82 433.39 L174.06 432.68 L174.3 432.15 L174.6 431.85 L174.89 432.28 L175.19 431.37 L175.56 431.27 L175.93 431.15 L176.3 430.47 L176.65 430.62 L177.01 430.54 L177.36 430.91 L177.72 430.41 L178.13 430.3 L178.55 430.94 L178.97 430.37 L179.39 430.69 L179.83 430.39 L180.28 429.71 L180.72 430.09 L181.17 430.07 L181.6 430.41 L182.03 429.9 L182.47 430.26 L182.9 430.04 L183.27 429.66 L183.63 430.35 L184 429.47 L184.36 430.25 L184.72 429.51 L185.11 429.3 L185.5 429.51 L185.89 430.11 L186.28 430.33 L186.66 429.24 L187.1 429.76 L187.53 429.75 L187.96 430.08 L188.39 429.39 L188.8 429.73 L189.2 429.71 L189.6 429.7" stroke="#33289a" stroke-width="1.2" fill="none"/><path d="M47.87 313.84 L48.36 315.14 L48.86 316.43 L49.35 317.73 L49.85 319.02 L50.34 320.31 L50.84 321.6 L51.33 322.89 L51.82 324.18 L52.32 325.47 L52.81 326.75 L53.31 328.04 L53.8 329.32 L54.3 330.6 L54.79 331.88 L55.28 333.16 L55.78 334.44 L56.27 335.71 L56.77 336.98 L57.26 338.26 L57.76 339.53 L58.25 340.8 L58.75 342.06 L59.24 343.33 L59.73 344.59 L60.23 345.85 L60.72 347.11 L61.22 348.37 L61.71 349.63 L62.21 350.88 L62.7 352.13 L63.2 353.39 L63.69 354.63 L64.18 355.88 L64.68 357.13 L65.17 358.37 L65.67 359.61 L66.16 360.85 L66.66 362.08 L67.15 363.32 L67.64 364.55 L68.14 365.78 L68.63 367.01 L69.13 368.23 L69.62 369.46 L70.12 370.68 L70.61 371.89 L71.11 373.11 L71.6 374.32 L72.09 375.53 L72.59 376.74 L73.08 377.94 L73.58 379.15 L74.07 380.35 L74.57 381.54 L75.06 382.74 L75.56 383.93 L76.05 385.11 L76.54 386.3 L77.04 387.48 L77.53 388.66 L78.03 389.83 L78.52 391 L79.02 392.17 L79.51 393.34 L80 394.5 L80.5 395.66 L80.99 396.81 L81.49 397.96 L81.98 399.11 L82.48 400.25 L82.97 401.39 L83.47 402.53 L83.96 403.66 L84.45 404.78 L84.95 405.91 L85.44 407.02 L85.94 408.14 L86.43 409.25 L86.93 410.35 L87.42 411.45 L87.92 412.55 L88.41 413.64 L88.9 414.73 L89.4 415.81 L89.89 416.88 L90.39 417.96 L90.88 419.02 L91.38 420.08 L91.87 421.14 L92.36 422.19 L92.86 423.23 L93.35 424.27 L93.85 425.3 L94.34 426.32 L94.84 427.34 L95.33 428.36 L95.83 429.36 L96.32 430.36 L96.81 431.35 L97.31 432.34 L97.8 433.32 L98.3 434.29 L98.79 435.26 L99.29 436.21 L99.78 437.16 L100.28 438.11 L100.77 439.04 L101.26 439.97 L101.76 440.89 L102.25 441.8 L102.75 442.7 L103.24 443.59 L103.74 444.47 L104.23 445.35 L104.72 446.21 L105.22 447.07 L105.71 447.92 L106.21 448.75 L106.7 449.58 L107.2 450.4 L107.69 451.21 L108.19 452 L108.68 452.79 L109.17 453.56 L109.67 454.33 L110.16 455.08 L110.66 455.82 L111.15 456.55 L111.65 457.27 L112.14 457.97 L112.64 458.66 L113.13 459.34 L113.62 460.01 L114.12 460.67 L114.61 461.31 L115.11 461.94 L115.6 462.55 L116.1 463.15 L116.59 463.74 L117.08 464.31 L117.58 464.87 L118.07 465.41 L118.57 465.94 L119.06 466.46 L119.56 466.96 L120.05 467.44 L120.55 467.91 L121.04 468.36 L121.53 468.79 L122.03 469.21 L122.52 469.62 L123.02 470 L123.51 470.37 L124.01 470.73 L124.5 471.06 L125 471.38 L125.49 471.68 L125.98 471.97 L126.48 472.23 L126.97 472.48 L127.47 472.71 L127.96 472.92 L128.46 473.12 L128.95 473.3 L129.44 473.45 L129.94 473.59 L130.43 473.71 L130.93 473.82 L131.42 473.9 L131.92 473.97 L132.41 474.01 L132.91 474.04 L133.4 474.05 L133.89 474.04 L134.39 474.01 L134.88 473.97 L135.38 473.9 L135.87 473.82 L136.37 473.71 L136.86 473.59 L137.36 473.45 L137.85 473.3 L138.34 473.12 L138.84 472.92 L139.33 472.71 L139.83 472.48 L140.32 472.23 L140.82 471.97 L141.31 471.68 L141.8 471.38 L142.3 471.06 L142.79 470.73 L143.29 470.37 L143.78 470 L144.28 469.62 L144.77 469.21 L145.27 468.79 L145.76 468.36 L146.25 467.91 L146.75 467.44 L147.24 466.96 L147.74 466.46 L148.23 465.94 L148.73 465.41 L149.22 464.87 L149.72 464.31 L150.21 463.74 L150.7 463.15 L151.2 462.55 L151.69 461.94 L152.19 461.31 L152.68 460.67 L153.18 460.01 L153.67 459.34 L154.16 458.66 L154.66 457.97 L155.15 457.27 L155.65 456.55 L156.14 455.82 L156.64 455.08 L157.13 454.33 L157.63 453.56 L158.12 452.79 L158.61 452 L159.11 451.21 L159.6 450.4 L160.1 449.58 L160.59 448.75 L161.09 447.92 L161.58 447.07 L162.08 446.21 L162.57 445.35 L163.06 444.47 L163.56 443.59 L164.05 442.7 L164.55 441.8 L165.04 440.89 L165.54 439.97 L166.03 439.04 L166.52 438.11 L167.02 437.16 L167.51 436.21 L168.01 435.26 L168.5 434.29 L169 433.32 L169.49 432.34 L169.99 431.35 L170.48 430.36 L170.97 429.36 L171.47 428.36 L171.96 427.34 L172.46 426.32 L172.95 425.3 L173.45 424.27 L173.94 423.23 L174.44 422.19 L174.93 421.14 L175.42 420.08 L175.92 419.02 L176.41 417.96 L176.91 416.88 L177.4 415.81 L177.9 414.73 L178.39 413.64 L178.88 412.55 L179.38 411.45 L179.87 410.35 L180.37 409.25 L180.86 408.14 L181.36 407.02 L181.85 405.91 L182.35 404.78 L182.84 403.66 L183.33 402.53 L183.83 401.39 L184.32 400.25 L184.82 399.11 L185.31 397.96 L185.81 396.81 L186.3 395.66 L186.8 394.5 L187.29 393.34 L187.78 392.17 L188.28 391 L188.77 389.83 L189.27 388.66 L189.76 387.48 L190.26 386.3 L190.75 385.11 L191.24 383.93 L191.74 382.74 L192.23 381.54 L192.73 380.35 L193.22 379.15 L193.72 377.94 L194.21 376.74 L194.71 375.53 L195.2 374.32 L195.69 373.11 L196.19 371.89 L196.68 370.68 L197.18 369.46 L197.67 368.23 L198.17 367.01 L198.66 365.78 L199.16 364.55 L199.65 363.32 L200.14 362.08 L200.64 360.85 L201.13 359.61 L201.63 358.37 L202.12 357.13 L202.62 355.88 L203.11 354.63 L203.6 353.39 L204.1 352.13 L204.59 350.88 L205.09 349.63 L205.58 348.37 L206.08 347.11 L206.57 345.85 L207.07 344.59 L207.56 343.33 L208.05 342.06 L208.55 340.8 L209.04 339.53 L209.54 338.26 L210.03 336.98 L210.53 335.71 L211.02 334.44 L211.52 333.16 L212.01 331.88 L212.5 330.6 L213 329.32 L213.49 328.04 L213.99 326.75 L214.48 325.47 L214.98 324.18 L215.47 322.89 L215.96 321.6 L216.46 320.31 L216.95 319.02 L217.45 317.73 L217.94 316.43 L218.44 315.14 L218.93 313.84" stroke="#000" stroke-width="1.15" stroke-dasharray="2.6 0.6" fill="none"/></g>
<circle cx="55.6" cy="335.3" r="1.9" fill="#1c1c5e" stroke="#000" stroke-width="0.5"/>
<circle cx="211" cy="335.3" r="1.9" fill="#1c1c5e" stroke="#000" stroke-width="0.5"/>
<circle cx="75.2" cy="382.5" r="1.9" fill="#1c1c5e" stroke="#000" stroke-width="0.5"/>
<circle cx="191.5" cy="382.5" r="1.9" fill="#1c1c5e" stroke="#000" stroke-width="0.5"/>
<circle cx="97.6" cy="433.5" r="1.9" fill="#1c1c5e" stroke="#000" stroke-width="0.5"/>
<circle cx="169.1" cy="433.5" r="1.9" fill="#1c1c5e" stroke="#000" stroke-width="0.5"/>
<path d="M41 315.5 H225.8 V477.4 H41" stroke="#000" stroke-width="0.9" fill="none"/>
<path d="M41 325.4H45.2M41 363.4H45.2M41 401.4H45.2M41 439.4H45.2M71.6 477.4V473.8M71.6 315.5V319.1M102.5 477.4V473.8M102.5 315.5V319.1M133.4 477.4V473.8M133.4 315.5V319.1M164.3 477.4V473.8M164.3 315.5V319.1M225.8 467.4H222.2M225.8 448.4H222.2M225.8 429.4H222.2M225.8 410.4H222.2M225.8 391.4H222.2M225.8 372.4H222.2M225.8 353.4H222.2M225.8 334.4H222.2" stroke="#000" stroke-width="0.8"/>
<text x="37.3" y="327.2" font-family='Liberation Sans' font-size="9.8" text-anchor="end" stroke="#000" stroke-width="0.22">0.0</text>
<text x="37.3" y="346.2" font-family='Liberation Sans' font-size="9.8" text-anchor="end" stroke="#000" stroke-width="0.22">−0.1</text>
<text x="37.3" y="365.2" font-family='Liberation Sans' font-size="9.8" text-anchor="end" stroke="#000" stroke-width="0.22">−0.2</text>
<text x="37.3" y="384.2" font-family='Liberation Sans' font-size="9.8" text-anchor="end" stroke="#000" stroke-width="0.22">−0.3</text>
<text x="37.3" y="403.2" font-family='Liberation Sans' font-size="9.8" text-anchor="end" stroke="#000" stroke-width="0.22">−0.4</text>
<text x="37.3" y="422.2" font-family='Liberation Sans' font-size="9.8" text-anchor="end" stroke="#000" stroke-width="0.22">−0.5</text>
<text x="37.3" y="441.2" font-family='Liberation Sans' font-size="9.8" text-anchor="end" stroke="#000" stroke-width="0.22">−0.6</text>
<text x="37.3" y="460.2" font-family='Liberation Sans' font-size="9.8" text-anchor="end" stroke="#000" stroke-width="0.22">−0.7</text>
<text x="37.3" y="479.2" font-family='Liberation Sans' font-size="9.8" text-anchor="end" stroke="#000" stroke-width="0.22">−0.8</text>
<text x="41.3" y="489.8" font-family='Liberation Sans' font-size="9.8" text-anchor="middle" stroke="#000" stroke-width="0.22">−30</text>
<text x="72.2" y="489.8" font-family='Liberation Sans' font-size="9.8" text-anchor="middle" stroke="#000" stroke-width="0.22">−20</text>
<text x="103.1" y="489.8" font-family='Liberation Sans' font-size="9.8" text-anchor="middle" stroke="#000" stroke-width="0.22">−10</text>
<text x="134" y="489.8" font-family='Liberation Sans' font-size="9.8" text-anchor="middle" stroke="#000" stroke-width="0.22">0</text>
<text x="164.9" y="489.8" font-family='Liberation Sans' font-size="9.8" text-anchor="middle" stroke="#000" stroke-width="0.22">10</text>
<text x="195.8" y="489.8" font-family='Liberation Sans' font-size="9.8" text-anchor="middle" stroke="#000" stroke-width="0.22">20</text>
<text x="226.7" y="489.8" font-family='Liberation Sans' font-size="9.8" text-anchor="middle" stroke="#000" stroke-width="0.22">30</text>
<text x="7.1" y="398.8" font-family='Liberation Sans' font-size="9.4" text-anchor="middle" transform="rotate(-90 7.1 398.8)" stroke="#000" stroke-width="0.22">Phase</text>
<path d="M83 451.5 L95.5 436.3" stroke="#000" stroke-width="0.8"/>
<rect x="43.6" y="454.3" width="59.6" height="18.3" rx="2.5" fill="#fff" stroke="#000" stroke-width="1"/>
<text x="47" y="461.8" font-family='Liberation Sans' font-size="7.3">Δ<tspan font-size="5.5" dy="1.8">q</tspan><tspan dy="-1.8">/2π = 5.6 GHz</tspan></text>
<text x="47" y="469.6" font-family='Liberation Sans' font-size="7.3">I<tspan font-size="5.5" dy="1.8">p</tspan><tspan dy="-1.8"> = 74 nA</tspan></text>
<text transform="translate(247.7 317.8) scale(0.85 1)" font-family='Liberation Sans' font-weight="bold" font-size="13.4" stroke="#000" stroke-width="0.45">b</text>
<g clip-path="url(#cb)"><path d="M261.4 335.74 L261.9 336.49 L262.4 335.76 L262.9 335.69 L263.4 336.22 L263.9 336 L264.4 335.57 L264.9 336.15 L265.4 335.54 L265.9 336.32 L266.4 336.22 L266.9 336.32 L267.4 336.14 L267.9 335.84 L268.4 335.89 L268.9 335.88 L269.4 336.43 L269.9 335.54 L270.4 336.43 L270.9 335.48 L271.4 335.68 L271.9 335.74 L272.4 336.44 L272.9 336 L273.4 336.88 L273.9 338.9 L274.4 339.06 L274.9 339.39 L275.4 338.74 L275.9 337.62 L276.4 334.38 L276.9 331.55 L277.4 329.68 L277.9 329.83 L278.4 331.48 L278.9 335.08 L279.4 334.88 L279.9 334.97 L280.4 334.34 L280.9 334.63 L281.4 335 L281.9 334.79 L282.4 334.29 L282.9 334.66 L283.4 335.12 L283.9 334.41 L284.4 334.36 L284.9 334.48 L285.4 334.92 L285.9 335.08 L286.4 334.32 L286.9 334.32 L287.4 334.42 L287.9 334.51 L288.4 334.72 L288.9 334.33 L289.4 334.51 L289.9 334.36 L290.4 335.22 L290.9 334.95 L291.4 334.26 L291.9 335.21 L292.4 334.26 L292.9 334.57 L293.4 335.23 L293.9 335.02 L294.4 334.96 L294.9 334.63 L295.4 334.37 L295.9 334.85 L296.4 334.27 L296.9 334.38 L297.4 334.58 L297.9 334.19 L298.4 334.59 L298.9 335.02 L299.4 334.91 L299.9 334.7 L300.4 334.85 L300.9 334.66 L301.4 334.31 L301.9 334.81 L302.4 334.6 L302.9 334.97 L303.4 335.15 L303.9 334.62 L304.4 334.78 L304.9 334.97 L305.4 334.61 L305.9 334.4 L306.4 334.94 L306.9 335.12 L307.4 335 L307.9 334.92 L308.4 335.09 L308.9 334.9 L309.4 334.86 L309.9 334.65 L310.4 334.49 L310.9 334.84 L311.4 334.26 L311.9 334.61 L312.4 335.01 L312.9 334.93 L313.4 334.84 L313.9 334.43 L314.4 334.62 L314.9 334.65 L315.4 334.83 L315.9 334.6 L316.4 334.89 L316.9 335.17 L317.4 334.35 L317.9 334.87 L318.4 335.01 L318.9 334.58 L319.4 334.69 L319.9 335.22 L320.4 334.19 L320.9 334.75 L321.4 334.33 L321.9 335.01 L322.4 335.18 L322.9 334.72 L323.4 334.26 L323.9 334.78 L324.4 334.75 L324.9 334.94 L325.4 334.71 L325.9 334.85 L326.4 335.06 L326.9 334.72 L327.4 334.6 L327.9 335.19 L328.4 334.38 L328.9 334.9 L329.4 334.58 L329.9 334.99 L330.4 334.28 L330.9 335.23 L331.4 334.54 L331.9 334.21 L332.4 334.45 L332.9 334.59 L333.4 334.16 L333.9 334.61 L334.4 334.61 L334.9 334.92 L335.4 334.54 L335.9 334.44 L336.4 334.4 L336.9 334.97 L337.4 335.18 L337.9 334.73 L338.4 334.39 L338.9 335.03 L339.4 334.58 L339.9 334.38 L340.4 334.29 L340.9 335 L341.4 335.04 L341.9 334.85 L342.4 334.67 L342.9 334.77 L343.4 334.4 L343.9 335.21 L344.4 334.54 L344.9 334.85 L345.4 335.05 L345.9 335.05 L346.4 334.66 L346.9 334.47 L347.4 334.75 L347.9 334.29 L348.4 335.07 L348.9 334.54 L349.4 335.09 L349.9 334.44 L350.4 334.56 L350.9 334.43 L351.4 334.62 L351.9 334.35 L352.4 334.15 L352.9 334.94 L353.4 334.46 L353.9 334.42 L354.4 334.48 L354.9 334.68 L355.4 334.62 L355.9 334.85 L356.4 334.88 L356.9 334.55 L357.4 335.17 L357.9 335.09 L358.4 334.21 L358.9 335.06 L359.4 335.15 L359.9 335.01 L360.4 334.3 L360.9 335.06 L361.4 334.85 L361.9 334.17 L362.4 334.16 L362.9 335.2 L363.4 334.87 L363.9 334.43 L364.4 334.26 L364.9 334.31 L365.4 334.41 L365.9 335 L366.4 334.53 L366.9 334.32 L367.4 335.14 L367.9 335.02 L368.4 334.33 L368.9 335.13 L369.4 334.82 L369.9 335.01 L370.4 334.89 L370.9 335.13 L371.4 335.02 L371.9 335.07 L372.4 334.37 L372.9 334.91 L373.4 334.73 L373.9 334.97 L374.4 334.63 L374.9 335.12 L375.4 334.76 L375.9 334.44 L376.4 334.41 L376.9 334.3 L377.4 334.69 L377.9 334.21 L378.4 334.66 L378.9 334.31 L379.4 334.69 L379.9 334.7 L380.4 334.74 L380.9 335.1 L381.4 334.16 L381.9 335.07 L382.4 334.66 L382.9 334.77 L383.4 334.88 L383.9 335.07 L384.4 334.56 L384.9 334.61 L385.4 335.21 L385.9 334.23 L386.4 334.85 L386.9 334.85 L387.4 334.18 L387.9 334.82 L388.4 334.9 L388.9 335.17 L389.4 334.51 L389.9 335.23 L390.4 334.71 L390.9 334.68 L391.4 335.14 L391.9 334.19 L392.4 334.94 L392.9 334.84 L393.4 334.52 L393.9 335.1 L394.4 334.55 L394.9 334.67 L395.4 334.73 L395.9 335 L396.4 334.38 L396.9 334.63 L397.4 334.61 L397.9 334.76 L398.4 335.06 L398.9 334.47 L399.4 335.06 L399.9 334.59 L400.4 334.7 L400.9 334.45 L401.4 334.71 L401.9 335.22 L402.4 334.87 L402.9 335.02 L403.4 334.51 L403.9 334.5 L404.4 334.48 L404.9 334.8 L405.4 334.85 L405.9 335.01 L406.4 334.19 L406.9 334.94 L407.4 335.12 L407.9 334.75 L408.4 334.2 L408.9 334.48 L409.4 334.16 L409.9 334.36 L410.4 335.16 L410.9 334.82 L411.4 334.87 L411.9 335.02 L412.4 335.15 L412.9 334.82 L413.4 334.83 L413.9 334.84 L414.4 334.92 L414.9 334.81 L415.4 334.9 L415.9 334.38 L416.4 334.88 L416.9 334.65 L417.4 334.99 L417.9 334.26 L418.4 334.35 L418.9 334.19 L419.4 335 L419.9 335.16 L420.4 334.87 L420.9 334.56 L421.4 335.05 L421.9 335.02 L422.4 334.77 L422.9 334.43 L423.4 334.48 L423.9 334.61 L424.4 334.5 L424.9 334.62 L425.4 334.86 L425.9 335.18 L426.4 334.21 L426.9 334.77 L427.4 334.19 L427.9 334.28 L428.4 335.04 L428.9 334.78 L429.4 335.16 L429.9 331.8 L430.4 329.49 L430.9 329.72 L431.4 331.49 L431.9 334.58 L432.4 337.87 L432.9 338.68 L433.4 339.34 L433.9 338.91 L434.4 338.63 L434.9 336.7 L435.4 335.62 L435.9 335.47 L436.4 335.46 L436.9 336.2 L437.4 335.58 L437.9 336.51 L438.4 335.55 L438.9 336.41 L439.4 335.59 L439.9 335.47 L440.4 336.24 L440.9 335.72 L441.4 336.26 L441.9 335.66 L442.4 335.51 L442.9 336.3 L443.4 336.23 L443.9 336.39 L444.4 336.25 L444.9 335.54 L445.4 336.14 L445.9 336.23 L446.4 335.96 L446.9 336.48" stroke="#6cc24a" stroke-width="1.1" fill="none"/><path d="M261.4 383.7 L261.9 384.56 L262.4 384.26 L262.9 383.41 L263.4 383.42 L263.9 384.18 L264.4 384.38 L264.9 383.5 L265.4 383.77 L265.9 384.28 L266.4 383.6 L266.9 384.43 L267.4 383.98 L267.9 383.47 L268.4 383.84 L268.9 384.09 L269.4 383.93 L269.9 384.21 L270.4 383.57 L270.9 384.36 L271.4 383.84 L271.9 384.17 L272.4 384.16 L272.9 383.9 L273.4 383.86 L273.9 384.34 L274.4 384.53 L274.9 384.34 L275.4 384.08 L275.9 383.75 L276.4 383.47 L276.9 384.57 L277.4 384.24 L277.9 384.39 L278.4 383.8 L278.9 384.13 L279.4 384.57 L279.9 384.4 L280.4 384.12 L280.9 383.77 L281.4 383.91 L281.9 384.47 L282.4 383.85 L282.9 384.22 L283.4 384.12 L283.9 384.48 L284.4 384.37 L284.9 383.74 L285.4 383.4 L285.9 383.72 L286.4 383.91 L286.9 384.1 L287.4 384.38 L287.9 384.46 L288.4 383.45 L288.9 384.4 L289.4 384.37 L289.9 384.44 L290.4 384.09 L290.9 383.73 L291.4 384.42 L291.9 384.37 L292.4 384.22 L292.9 384.5 L293.4 383.82 L293.9 384.08 L294.4 385.22 L294.9 385.83 L295.4 385.08 L295.9 385.36 L296.4 384.95 L296.9 381.98 L297.4 381.16 L297.9 380.63 L298.4 380.64 L298.9 381.39 L299.4 382.61 L299.9 383.2 L300.4 383.25 L300.9 382.85 L301.4 382.41 L301.9 383.27 L302.4 383.23 L302.9 382.58 L303.4 383 L303.9 383.38 L304.4 383.36 L304.9 382.93 L305.4 382.87 L305.9 383.01 L306.4 382.53 L306.9 382.53 L307.4 382.52 L307.9 383.14 L308.4 382.74 L308.9 382.98 L309.4 382.78 L309.9 382.92 L310.4 382.48 L310.9 382.35 L311.4 383.5 L311.9 382.75 L312.4 382.43 L312.9 383.06 L313.4 383.24 L313.9 382.49 L314.4 383.02 L314.9 382.71 L315.4 382.92 L315.9 382.32 L316.4 382.34 L316.9 383.49 L317.4 383.34 L317.9 382.88 L318.4 382.98 L318.9 382.61 L319.4 383.24 L319.9 382.81 L320.4 383.44 L320.9 383.22 L321.4 383.28 L321.9 383.46 L322.4 382.6 L322.9 382.35 L323.4 382.54 L323.9 382.52 L324.4 382.4 L324.9 382.36 L325.4 382.97 L325.9 383.34 L326.4 382.85 L326.9 383.44 L327.4 383.39 L327.9 382.38 L328.4 383.02 L328.9 382.78 L329.4 382.44 L329.9 383.45 L330.4 382.61 L330.9 382.98 L331.4 383.07 L331.9 383.45 L332.4 383.1 L332.9 382.77 L333.4 382.84 L333.9 382.49 L334.4 383.46 L334.9 383.49 L335.4 382.57 L335.9 382.35 L336.4 382.61 L336.9 382.72 L337.4 383.38 L337.9 383.39 L338.4 383.3 L338.9 382.36 L339.4 383.24 L339.9 383.15 L340.4 383.08 L340.9 383.48 L341.4 382.37 L341.9 382.47 L342.4 383.21 L342.9 383.43 L343.4 383.11 L343.9 382.66 L344.4 383.01 L344.9 383.21 L345.4 382.43 L345.9 382.69 L346.4 382.61 L346.9 382.45 L347.4 382.88 L347.9 382.5 L348.4 382.59 L348.9 382.47 L349.4 383.11 L349.9 382.32 L350.4 383.16 L350.9 382.53 L351.4 382.34 L351.9 383.41 L352.4 382.56 L352.9 383.42 L353.4 383.34 L353.9 383.37 L354.4 382.47 L354.9 382.84 L355.4 382.42 L355.9 383.41 L356.4 383.31 L356.9 383.05 L357.4 382.84 L357.9 382.71 L358.4 383.29 L358.9 382.87 L359.4 383.05 L359.9 382.47 L360.4 382.57 L360.9 382.37 L361.4 383.16 L361.9 382.96 L362.4 382.47 L362.9 383.34 L363.4 382.62 L363.9 382.79 L364.4 382.49 L364.9 382.63 L365.4 383.31 L365.9 382.7 L366.4 382.5 L366.9 382.89 L367.4 382.68 L367.9 383.38 L368.4 382.44 L368.9 383.47 L369.4 382.37 L369.9 383.37 L370.4 383.1 L370.9 382.55 L371.4 382.87 L371.9 382.64 L372.4 382.61 L372.9 382.54 L373.4 382.74 L373.9 383.49 L374.4 383.5 L374.9 383.41 L375.4 382.42 L375.9 382.65 L376.4 383.38 L376.9 382.37 L377.4 383.17 L377.9 382.65 L378.4 383.47 L378.9 382.32 L379.4 383.27 L379.9 382.71 L380.4 382.47 L380.9 382.3 L381.4 383.3 L381.9 382.93 L382.4 382.52 L382.9 382.82 L383.4 383.39 L383.9 382.56 L384.4 382.99 L384.9 382.47 L385.4 382.52 L385.9 383.22 L386.4 383.15 L386.9 382.54 L387.4 382.4 L387.9 382.4 L388.4 383.03 L388.9 382.89 L389.4 382.63 L389.9 382.55 L390.4 383.03 L390.9 383.15 L391.4 383.27 L391.9 383 L392.4 382.54 L392.9 382.38 L393.4 383.18 L393.9 382.79 L394.4 383.17 L394.9 382.37 L395.4 383.27 L395.9 382.7 L396.4 383.31 L396.9 383.34 L397.4 382.89 L397.9 382.32 L398.4 383.39 L398.9 382.87 L399.4 383.35 L399.9 382.62 L400.4 382.52 L400.9 383.3 L401.4 382.74 L401.9 382.5 L402.4 382.75 L402.9 383.01 L403.4 382.31 L403.9 382.92 L404.4 382.83 L404.9 382.92 L405.4 382.44 L405.9 383.16 L406.4 383.28 L406.9 383.34 L407.4 382.69 L407.9 383.15 L408.4 382.76 L408.9 383.2 L409.4 382.37 L409.9 381.93 L410.4 381.11 L410.9 380.47 L411.4 381.26 L411.9 382.64 L412.4 384.62 L412.9 384.58 L413.4 386.03 L413.9 385.1 L414.4 384.68 L414.9 383.96 L415.4 383.7 L415.9 384.38 L416.4 383.44 L416.9 383.52 L417.4 384.24 L417.9 383.63 L418.4 383.42 L418.9 384.12 L419.4 384.09 L419.9 384.03 L420.4 384.24 L420.9 383.52 L421.4 384.44 L421.9 384.26 L422.4 383.45 L422.9 383.55 L423.4 383.99 L423.9 384 L424.4 383.74 L424.9 383.55 L425.4 383.89 L425.9 383.56 L426.4 384.11 L426.9 384.43 L427.4 383.58 L427.9 384.09 L428.4 384.3 L428.9 383.6 L429.4 384.39 L429.9 384.53 L430.4 383.87 L430.9 383.9 L431.4 384.41 L431.9 384.03 L432.4 383.87 L432.9 384.53 L433.4 384.33 L433.9 383.81 L434.4 383.69 L434.9 383.8 L435.4 383.92 L435.9 384.58 L436.4 384.37 L436.9 384.5 L437.4 384.38 L437.9 384.42 L438.4 383.46 L438.9 384.02 L439.4 384.55 L439.9 384.52 L440.4 383.7 L440.9 383.91 L441.4 384.16 L441.9 383.84 L442.4 384.04 L442.9 383.48 L443.4 383.92 L443.9 384.01 L444.4 383.42 L444.9 383.57 L445.4 384.56 L445.9 384.33 L446.4 384.52 L446.9 384.16" stroke="#9ccf38" stroke-width="1.1" fill="none"/><path d="M261.4 430.6 L261.81 430.6 L262.23 430.61 L262.64 430.01 L263.05 430.8 L263.47 430.32 L263.88 430.86 L264.3 430.33 L264.71 430.69 L265.14 431.19 L265.57 430.8 L266 430.32 L266.43 430.68 L266.86 430.57 L267.3 431.25 L267.73 430.39 L268.16 430.42 L268.59 430.86 L269.02 430.18 L269.45 430.8 L269.9 431.28 L270.34 430.71 L270.79 430.39 L271.24 430.66 L271.69 430.75 L272.13 430.25 L272.58 430.23 L273.03 430.24 L273.47 430.46 L273.92 430.61 L274.37 430.46 L274.82 430.4 L275.25 430.21 L275.68 430.81 L276.11 431.2 L276.54 430.9 L276.98 430.86 L277.41 430.96 L277.84 430.39 L278.27 431.05 L278.7 430.73 L279.14 430.85 L279.57 430.94 L280 430.76 L280.44 430.56 L280.88 430.48 L281.31 430.46 L281.75 430.84 L282.19 430.68 L282.63 430.95 L283.06 430.21 L283.5 430.66 L283.94 431.32 L284.38 430.52 L284.82 430.94 L285.25 430.86 L285.68 430.6 L286.11 431.52 L286.54 430.62 L286.98 431.25 L287.41 430.46 L287.84 430.34 L288.27 431.4 L288.7 430.84 L289.13 430.36 L289.56 430.79 L289.99 430.86 L290.42 431.25 L290.85 430.44 L291.28 430.6 L291.71 431.56 L292.14 431.28 L292.57 430.53 L293 430.77 L293.44 430.8 L293.87 431.22 L294.3 431.15 L294.73 431.46 L295.16 431.43 L295.59 431.05 L296.02 431.34 L296.46 431.35 L296.91 431.38 L297.35 431.02 L297.79 431.43 L298.23 431.34 L298.67 431.62 L299.12 430.6 L299.56 431.57 L300 430.46 L300.39 431.45 L300.78 431.23 L301.16 431.12 L301.55 431.73 L301.94 431.24 L302.33 431.04 L302.72 431.53 L303.11 431.66 L303.5 431.33 L303.84 431.05 L304.17 431.17 L304.59 431.21 L305 431.59 L305.37 431.06 L305.74 431.22 L306.1 431.47 L306.45 431.29 L306.8 431.24 L307.15 431.89 L307.47 432.01 L307.8 431.6 L308.12 431.57 L308.56 431.31 L309 431.55 L309.39 431.42 L309.77 432.05 L310.11 432.14 L310.45 431.58 L310.75 432.76 L311.05 432.09 L311.33 432.9 L311.6 433.04 L311.84 433.38 L312.08 432.59 L312.28 433.1 L312.48 433.95 L312.66 433.04 L312.84 433.34 L313.02 434.3 L313.2 434.5 L313.38 435.35 L313.56 435.47 L313.73 435.5 L313.91 436.43 L314.07 436.18 L314.22 436.55 L314.32 437.06 L314.41 436.97 L314.5 437.22 L314.57 437.85 L314.65 437.86 L314.72 438.96 L314.78 438.96 L314.85 439.12 L314.91 438.92 L314.96 439.68 L315.01 440.11 L315.06 440.72 L315.1 441.08 L315.13 441.81 L315.17 442.26 L315.2 441.98 L315.23 442.36 L315.27 443.03 L315.3 443.95 L315.33 443.54 L315.35 444.19 L315.38 444.97 L315.4 444.54 L315.42 445.14 L315.44 446.41 L315.46 446.59 L315.48 446.56 L315.5 446.42 L315.52 447.82 L315.54 447.93 L315.56 448.12 L315.58 448.56 L315.6 449 L316.3 416 L316.34 416.39 L316.38 416.77 L316.42 417.18 L316.46 417.55 L316.51 417.58 L316.56 418.02 L316.61 419.04 L316.65 419.44 L316.7 419.56 L316.74 420.82 L316.79 420.79 L316.83 420.44 L316.87 421.35 L316.92 422.27 L316.96 422.08 L317 423.02 L317.04 422.57 L317.08 423.41 L317.12 424.55 L317.16 424.67 L317.2 425.22 L317.23 425.02 L317.26 425.82 L317.29 426.3 L317.32 426.34 L317.35 427.25 L317.38 427.51 L317.41 428.53 L317.43 428.38 L317.46 428.56 L317.48 428.58 L317.51 429.03 L317.53 430.21 L317.56 429.76 L317.58 430.15 L317.61 430.63 L317.63 431.49 L317.66 432.27 L317.68 432.39 L317.7 433.04 L317.73 432.46 L317.75 432.79 L317.78 434.17 L317.8 433.98 L317.83 434.89 L317.86 434.82 L317.89 434.98 L317.92 435.5 L317.94 435.68 L317.97 437.13 L318 437.11 L318.03 437.2 L318.07 437.72 L318.1 438.03 L318.13 438 L318.16 439.48 L318.2 439.47 L318.23 440.38 L318.27 440.12 L318.31 440.78 L318.35 440.72 L318.39 440.87 L318.43 442.4 L318.47 442.67 L318.51 442.34 L318.55 443.48 L318.59 443.74 L318.64 443.49 L318.69 444.3 L318.75 445.18 L318.8 444.99 L318.86 445.96 L318.93 445.41 L318.99 445.98 L319.06 446.78 L319.16 446.57 L319.25 447.12 L319.35 448.29 L319.44 448.13 L319.53 448.88 L319.62 448.85 L319.71 449.23 L319.8 449.6 L321.5 412 L321.58 412.26 L321.66 412.53 L321.78 412.98 L321.89 412.78 L321.98 413.61 L322.07 413.71 L322.15 414.02 L322.28 414.01 L322.4 414.51 L322.5 415.84 L322.61 415.65 L322.67 415.8 L322.74 416.02 L322.8 416.44 L322.87 416.68 L322.95 416.71 L323.02 417.83 L323.11 417.7 L323.21 417.76 L323.3 418.77 L323.42 418.27 L323.54 418.8 L323.66 419.83 L323.8 419.21 L323.94 419.92 L324.08 420.73 L324.23 420.99 L324.38 420.44 L324.54 420.99 L324.69 421.74 L324.85 421.57 L325 422.6 L325.22 422 L325.43 423.35 L325.64 423.14 L325.86 423.14 L326.1 423.77 L326.35 423.68 L326.68 424.73 L327 424.44 L327.29 425.43 L327.57 425.19 L327.86 425.07 L328.2 425.05 L328.54 425.66 L328.88 425.28 L329.23 426.25 L329.59 425.39 L329.95 426.02 L330.3 426.16 L330.65 425.9 L331 426.65 L331.43 426.27 L331.86 426.74 L332.24 426.71 L332.62 426.46 L332.94 426.61 L333.26 426.27 L333.58 426.43 L333.93 427.35 L334.29 426.69 L334.64 427.17 L335 426.49 L335.42 427.11 L335.84 426.89 L336.26 427.1 L336.68 426.87 L337.1 426.6 L337.53 426.95 L337.96 426.87 L338.39 426.76 L338.83 427.56 L339.26 427.02 L339.69 427.21 L340.08 427.88 L340.47 427.73 L340.86 427.89 L341.25 427.89 L341.65 426.96 L342.04 427.17 L342.43 426.87 L342.86 427.73 L343.29 427.73 L343.71 427.35 L344.14 427.45 L344.57 427.79 L345 427.86 L345.38 427.29 L345.76 428.08 L346.14 427.45 L346.52 427.83 L346.89 427.26 L347.27 427.19 L347.71 428.24 L348.14 428.02 L348.57 428.01 L349 427.15 L349.44 427.16 L349.88 427.32 L350.32 427.38 L350.75 427.52 L351.19 427.63 L351.63 427.2 L352.03 427.55 L352.42 427.98 L352.82 427.38 L353.21 428.24 L353.61 427.89 L354 428.08 L354.44 427.48 L354.88 427.7 L355.32 428.02 L355.76 427.58 L356.19 427.12 L356.63 428.2 L357.03 428.11 L357.43 427.47 L357.83 427.14 L358.24 428.18 L358.64 427.85 L359.04 427.12 L359.44 427.36 L359.84 427.18 L360.25 428.05 L360.65 427.28 L361.06 428.18 L361.46 427.95 L361.87 427.08 L362.27 427.85 L362.66 427.45 L363.05 427.89 L363.44 427.98 L363.83 427.26 L364.22 427 L364.61 428.09 L365 427.4 L365.45 428.04 L365.9 427.71 L366.34 427.76 L366.79 427.86 L367.24 427.58 L367.69 427.33 L368.14 426.79 L368.58 427.61 L369.03 427.24 L369.48 427.33 L369.93 427.85 L370.38 426.79 L370.79 427.59 L371.21 426.64 L371.62 427.47 L372.04 427.58 L372.46 426.86 L372.88 427.2 L373.3 427.73 L373.73 427.27 L374.15 427.11 L374.57 426.7 L375 426.43 L375.41 426.78 L375.82 426.81 L376.24 426.51 L376.65 426.61 L377.08 426.34 L377.51 427.03 L377.94 426.93 L378.29 426.31 L378.65 426.26 L379.01 426.56 L379.34 426.39 L379.67 426.95 L380 426.11 L380.31 425.95 L380.61 426.62 L380.92 425.57 L381.31 425.97 L381.7 425.53 L382.04 425.96 L382.38 425.42 L382.69 425.42 L383 424.37 L383.19 424.78 L383.37 424.45 L383.56 424.04 L383.71 424.15 L383.87 423.96 L384.03 422.74 L384.17 422.63 L384.3 422.39 L384.44 421.85 L384.56 421.25 L384.68 421.12 L384.8 420.61 L384.87 420.92 L384.95 420.24 L385.02 419.46 L385.1 419.39 L385.16 419.19 L385.21 418.67 L385.27 418.03 L385.33 417.52 L385.37 417.07 L385.41 417.98 L385.45 417.3 L385.49 416.07 L385.52 416.53 L385.55 416.5 L385.58 415.58 L385.61 414.61 L385.64 414.73 L385.67 414.29 L385.7 413.6 L385.72 413.61 L385.75 412.47 L385.77 413.2 L385.79 412.4 L385.82 411.93 L385.84 411.88 L385.86 411.07 L385.88 410.12 L385.9 409.69 L385.91 409.13 L385.93 408.56 L385.94 409.11 L385.96 408.77 L385.97 407.64 L385.99 407.08 L386.01 407.24 L386.02 407.06 L386.03 406.72 L386.05 405.29 L386.06 405.64 L386.08 405.25 L386.09 404.69 L386.11 403.7 L386.12 403.07 L386.13 403.49 L386.15 402.42 L386.16 402.07 L386.17 401.83 L386.19 401.41 L386.2 401 L387.3 450.8 L387.34 450.42 L387.37 450.04 L387.41 449.82 L387.44 449.69 L387.48 449.15 L387.51 449.02 L387.55 448.68 L387.59 447.71 L387.62 447.32 L387.66 446.49 L387.69 446.28 L387.73 446.26 L387.77 445.16 L387.81 445.51 L387.85 444.38 L387.9 444.3 L387.94 444.54 L387.98 442.95 L388.02 442.44 L388.06 442.52 L388.1 441.77 L388.14 442.03 L388.18 440.66 L388.22 441.31 L388.26 440.9 L388.3 440.37 L388.34 439.48 L388.38 438.87 L388.42 438.94 L388.45 438.33 L388.49 437.78 L388.53 437.25 L388.57 436.96 L388.61 436.81 L388.65 436.58 L388.69 436.24 L388.73 434.84 L388.77 434.57 L388.81 434.32 L388.85 434.03 L388.89 433.32 L388.93 432.68 L388.97 432.1 L389.01 431.97 L389.05 431.71 L389.09 431.94 L389.13 431.42 L389.17 430.95 L389.21 430.68 L389.25 430.25 L389.28 429.39 L389.32 429.23 L389.36 427.84 L389.4 428.23 L389.44 427.75 L389.48 426.95 L389.51 426.91 L389.55 427.01 L389.59 426 L389.63 425.82 L389.66 424.97 L389.7 424.65 L389.74 424.97 L389.78 423.47 L389.81 423.29 L389.85 423.55 L389.89 422.86 L389.92 422 L389.97 422.34 L390.01 421.56 L390.05 421.42 L390.09 420.79 L390.13 420.53 L390.17 420.16 L390.22 419.53 L390.26 418.75 L390.31 418.42 L390.35 418.92 L390.4 418.06 L390.45 417.08 L390.51 417.64 L390.56 416.44 L390.61 415.82 L390.68 415.94 L390.75 415.14 L390.81 415.01 L390.87 414.76 L390.92 414 L390.98 414.02 L391.04 413.66 L391.1 413.3 L392.3 450.8 L392.34 450.38 L392.38 449.96 L392.42 448.98 L392.45 449.09 L392.49 449.28 L392.52 448.51 L392.55 448.36 L392.59 448.05 L392.63 446.82 L392.67 447.56 L392.71 446.81 L392.75 445.61 L392.79 446.16 L392.84 445.16 L392.89 444.44 L392.95 445.03 L393 444.08 L393.05 444.01 L393.1 442.83 L393.15 443.31 L393.21 442.02 L393.28 441.83 L393.35 441.58 L393.42 440.69 L393.5 441.05 L393.59 440.16 L393.67 439.88 L393.78 440.03 L393.89 439.28 L394 439.51 L394.13 438.79 L394.26 438.75 L394.38 437.98 L394.53 438.09 L394.67 437.69 L394.81 436.42 L394.99 436.85 L395.16 436 L395.34 436.23 L395.56 435.82 L395.78 435.72 L396 434.51 L396.27 434.57 L396.54 434.78 L396.81 434.78 L397.12 434.25 L397.44 433.13 L397.75 433.62 L398.1 432.75 L398.46 433.12 L398.81 433.24 L399.21 432.16 L399.6 433.03 L400 432.53 L400.39 431.83 L400.78 431.6 L401.17 431.78 L401.57 432.17 L401.97 431.72 L402.38 430.99 L402.75 430.8 L403.13 430.85 L403.51 431.68 L403.89 430.81 L404.31 431.24 L404.73 430.86 L405.16 431.33 L405.58 430.89 L406 430.54 L406.44 431.47 L406.88 431.01 L407.32 431.18 L407.76 431.31 L408.19 431.47 L408.63 430.24 L409.07 430.66 L409.51 430.4 L409.94 430.85 L410.38 431.32 L410.81 431.22 L411.25 430.22 L411.69 430.41 L412.1 431.23 L412.51 431.05 L412.92 430.68 L413.34 430.78 L413.75 430.37 L414.16 431.26 L414.57 430.67 L414.99 431.3 L415.4 430.95 L415.82 430.26 L416.24 430.59 L416.65 430.44 L417.07 431.32 L417.49 430.92 L417.91 430.21 L418.33 430.37 L418.75 430.62 L419.16 430.76 L419.58 430.9 L420 430.65 L420.43 430.61 L420.86 430.16 L421.29 430.9 L421.73 430.58 L422.16 430.17 L422.59 430.74 L423.02 431.43 L423.45 430.2 L423.88 430.33 L424.31 431.01 L424.74 430.49 L425.18 430.49 L425.61 430.79 L426.04 430.48 L426.47 430.88 L426.91 430.82 L427.35 431.38 L427.79 431.43 L428.23 430.18 L428.66 430.87 L429.1 431.14 L429.54 431.27 L429.98 431.14 L430.42 430.96 L430.86 430.96 L431.3 430.61 L431.74 430.5 L432.18 431.17 L432.62 431.27 L433.06 431.36 L433.5 431.02 L433.94 430.53 L434.38 431.13 L434.81 431.1 L435.25 430.8 L435.69 430.96 L436.13 430.59 L436.57 430.86 L437.01 430.67 L437.45 430.22 L437.89 430.58 L438.33 430.56 L438.77 431.43 L439.21 430.77 L439.65 430.62 L440.09 430.46 L440.53 430.45 L440.97 430.6 L441.4 430.32 L441.84 430.15 L442.27 431.28 L442.7 430.74 L443.13 430.73 L443.56 430.89 L443.99 430.54 L444.42 430.37 L444.85 430.23 L445.28 430.54 L445.71 430.55 L446.14 430.8 L446.57 430.8 L447 430.8" stroke="#33289a" stroke-width="1.2" fill="none"/><path d="M268.62 314.74 L269.11 316.06 L269.61 317.38 L270.1 318.7 L270.6 320.01 L271.09 321.33 L271.59 322.65 L272.08 323.96 L272.57 325.27 L273.07 326.58 L273.56 327.89 L274.06 329.2 L274.55 330.51 L275.05 331.82 L275.54 333.12 L276.03 334.43 L276.53 335.73 L277.02 337.03 L277.52 338.33 L278.01 339.63 L278.51 340.93 L279 342.22 L279.5 343.52 L279.99 344.81 L280.48 346.1 L280.98 347.39 L281.47 348.68 L281.97 349.96 L282.46 351.25 L282.96 352.53 L283.45 353.81 L283.95 355.09 L284.44 356.37 L284.93 357.64 L285.43 358.91 L285.92 360.19 L286.42 361.46 L286.91 362.72 L287.41 363.99 L287.9 365.25 L288.39 366.52 L288.89 367.78 L289.38 369.03 L289.88 370.29 L290.37 371.54 L290.87 372.79 L291.36 374.04 L291.86 375.29 L292.35 376.53 L292.84 377.77 L293.34 379.01 L293.83 380.25 L294.33 381.48 L294.82 382.72 L295.32 383.95 L295.81 385.17 L296.31 386.4 L296.8 387.62 L297.29 388.83 L297.79 390.05 L298.28 391.26 L298.78 392.47 L299.27 393.68 L299.77 394.88 L300.26 396.08 L300.75 397.28 L301.25 398.47 L301.74 399.66 L302.24 400.85 L302.73 402.03 L303.23 403.21 L303.72 404.38 L304.22 405.56 L304.71 406.72 L305.2 407.89 L305.7 409.05 L306.19 410.2 L306.69 411.36 L307.18 412.5 L307.68 413.65 L308.17 414.79 L308.67 415.92 L309.16 417.05 L309.65 418.18 L310.15 419.3 L310.64 420.42 L311.14 421.53 L311.63 422.63 L312.13 423.73 L312.62 424.83 L313.11 425.92 L313.61 427 L314.1 428.08 L314.6 429.16 L315.09 430.22 L315.59 431.29 L316.08 432.34 L316.58 433.39 L317.07 434.43 L317.56 435.47 L318.06 436.5 L318.55 437.52 L319.05 438.54 L319.54 439.55 L320.04 440.55 L320.53 441.54 L321.03 442.53 L321.52 443.51 L322.01 444.48 L322.51 445.44 L323 446.4 L323.5 447.34 L323.99 448.28 L324.49 449.21 L324.98 450.13 L325.47 451.04 L325.97 451.94 L326.46 452.84 L326.96 453.72 L327.45 454.59 L327.95 455.45 L328.44 456.3 L328.94 457.15 L329.43 457.98 L329.92 458.8 L330.42 459.6 L330.91 460.4 L331.41 461.19 L331.9 461.96 L332.4 462.72 L332.89 463.47 L333.39 464.21 L333.88 464.93 L334.37 465.64 L334.87 466.34 L335.36 467.02 L335.86 467.69 L336.35 468.35 L336.85 468.99 L337.34 469.62 L337.83 470.23 L338.33 470.83 L338.82 471.41 L339.32 471.97 L339.81 472.53 L340.31 473.06 L340.8 473.58 L341.3 474.08 L341.79 474.57 L342.28 475.03 L342.78 475.48 L343.27 475.92 L343.77 476.33 L344.26 476.73 L344.76 477.11 L345.25 477.47 L345.75 477.82 L346.24 478.14 L346.73 478.45 L347.23 478.74 L347.72 479 L348.22 479.25 L360.08 479.25 L360.58 479 L361.07 478.74 L361.57 478.45 L362.06 478.14 L362.55 477.82 L363.05 477.47 L363.54 477.11 L364.04 476.73 L364.53 476.33 L365.03 475.92 L365.52 475.48 L366.02 475.03 L366.51 474.57 L367 474.08 L367.5 473.58 L367.99 473.06 L368.49 472.53 L368.98 471.97 L369.48 471.41 L369.97 470.83 L370.47 470.23 L370.96 469.62 L371.45 468.99 L371.95 468.35 L372.44 467.69 L372.94 467.02 L373.43 466.34 L373.93 465.64 L374.42 464.93 L374.91 464.21 L375.41 463.47 L375.9 462.72 L376.4 461.96 L376.89 461.19 L377.39 460.4 L377.88 459.6 L378.38 458.8 L378.87 457.98 L379.36 457.15 L379.86 456.3 L380.35 455.45 L380.85 454.59 L381.34 453.72 L381.84 452.84 L382.33 451.94 L382.83 451.04 L383.32 450.13 L383.81 449.21 L384.31 448.28 L384.8 447.34 L385.3 446.4 L385.79 445.44 L386.29 444.48 L386.78 443.51 L387.27 442.53 L387.77 441.54 L388.26 440.55 L388.76 439.55 L389.25 438.54 L389.75 437.52 L390.24 436.5 L390.74 435.47 L391.23 434.43 L391.72 433.39 L392.22 432.34 L392.71 431.29 L393.21 430.22 L393.7 429.16 L394.2 428.08 L394.69 427 L395.19 425.92 L395.68 424.83 L396.17 423.73 L396.67 422.63 L397.16 421.53 L397.66 420.42 L398.15 419.3 L398.65 418.18 L399.14 417.05 L399.63 415.92 L400.13 414.79 L400.62 413.65 L401.12 412.5 L401.61 411.36 L402.11 410.2 L402.6 409.05 L403.1 407.89 L403.59 406.72 L404.08 405.56 L404.58 404.38 L405.07 403.21 L405.57 402.03 L406.06 400.85 L406.56 399.66 L407.05 398.47 L407.55 397.28 L408.04 396.08 L408.53 394.88 L409.03 393.68 L409.52 392.47 L410.02 391.26 L410.51 390.05 L411.01 388.83 L411.5 387.62 L411.99 386.4 L412.49 385.17 L412.98 383.95 L413.48 382.72 L413.97 381.48 L414.47 380.25 L414.96 379.01 L415.46 377.77 L415.95 376.53 L416.44 375.29 L416.94 374.04 L417.43 372.79 L417.93 371.54 L418.42 370.29 L418.92 369.03 L419.41 367.78 L419.91 366.52 L420.4 365.25 L420.89 363.99 L421.39 362.72 L421.88 361.46 L422.38 360.19 L422.87 358.91 L423.37 357.64 L423.86 356.37 L424.35 355.09 L424.85 353.81 L425.34 352.53 L425.84 351.25 L426.33 349.96 L426.83 348.68 L427.32 347.39 L427.82 346.1 L428.31 344.81 L428.8 343.52 L429.3 342.22 L429.79 340.93 L430.29 339.63 L430.78 338.33 L431.28 337.03 L431.77 335.73 L432.27 334.43 L432.76 333.12 L433.25 331.82 L433.75 330.51 L434.24 329.2 L434.74 327.89 L435.23 326.58 L435.73 325.27 L436.22 323.96 L436.71 322.65 L437.21 321.33 L437.7 320.01 L438.2 318.7 L438.69 317.38 L439.19 316.06 L439.68 314.74" stroke="#000" stroke-width="0.95" stroke-dasharray="2.6 0.6" fill="none"/><path d="M268.62 314.66 L269.11 315.92 L269.61 317.17 L270.1 318.42 L270.6 319.67 L271.09 320.92 L271.59 322.16 L272.08 323.41 L272.57 324.65 L273.07 325.89 L273.56 327.14 L274.06 328.38 L274.55 329.61 L275.05 330.85 L275.54 332.08 L276.03 333.32 L276.53 334.55 L277.02 335.78 L277.52 337 L278.01 338.23 L278.51 339.45 L279 340.68 L279.5 341.9 L279.99 343.12 L280.48 344.33 L280.98 345.55 L281.47 346.76 L281.97 347.97 L282.46 349.18 L282.96 350.39 L283.45 351.59 L283.95 352.79 L284.44 353.99 L284.93 355.19 L285.43 356.39 L285.92 357.58 L286.42 358.77 L286.91 359.96 L287.41 361.15 L287.9 362.33 L288.39 363.52 L288.89 364.7 L289.38 365.87 L289.88 367.05 L290.37 368.22 L290.87 369.39 L291.36 370.55 L291.86 371.72 L292.35 372.88 L292.84 374.04 L293.34 375.19 L293.83 376.34 L294.33 377.49 L294.82 378.64 L295.32 379.78 L295.81 380.92 L296.31 382.06 L296.8 383.19 L297.29 384.32 L297.79 385.45 L298.28 386.58 L298.78 387.7 L299.27 388.81 L299.77 389.93 L300.26 391.03 L300.75 392.14 L301.25 393.24 L301.74 394.34 L302.24 395.43 L302.73 396.52 L303.23 397.61 L303.72 398.69 L304.22 399.77 L304.71 400.84 L305.2 401.91 L305.7 402.98 L306.19 404.04 L306.69 405.09 L307.18 406.14 L307.68 407.19 L308.17 408.23 L308.67 409.27 L309.16 410.3 L309.65 411.33 L310.15 412.35 L310.64 413.36 L311.14 414.37 L311.63 415.38 L312.13 416.38 L312.62 417.37 L313.11 418.36 L313.61 419.34 L314.1 420.32 L314.6 421.28 L315.09 422.25 L315.59 423.21 L316.08 424.16 L316.58 425.1 L317.07 426.04 L317.56 426.97 L318.06 427.89 L318.55 428.81 L319.05 429.72 L319.54 430.62 L320.04 431.51 L320.53 432.4 L321.03 433.28 L321.52 434.15 L322.01 435.01 L322.51 435.87 L323 436.71 L323.5 437.55 L323.99 438.38 L324.49 439.2 L324.98 440.01 L325.47 440.81 L325.97 441.61 L326.46 442.39 L326.96 443.17 L327.45 443.93 L327.95 444.69 L328.44 445.43 L328.94 446.17 L329.43 446.89 L329.92 447.6 L330.42 448.31 L330.91 449 L331.41 449.68 L331.9 450.35 L332.4 451.01 L332.89 451.65 L333.39 452.29 L333.88 452.91 L334.37 453.52 L334.87 454.12 L335.36 454.71 L335.86 455.28 L336.35 455.84 L336.85 456.39 L337.34 456.93 L337.83 457.45 L338.33 457.96 L338.82 458.45 L339.32 458.93 L339.81 459.4 L340.31 459.85 L340.8 460.29 L341.3 460.72 L341.79 461.12 L342.28 461.52 L342.78 461.9 L343.27 462.26 L343.77 462.61 L344.26 462.95 L344.76 463.27 L345.25 463.57 L345.75 463.86 L346.24 464.13 L346.73 464.39 L347.23 464.63 L347.72 464.85 L348.22 465.06 L348.71 465.25 L349.21 465.42 L349.7 465.58 L350.19 465.72 L350.69 465.85 L351.18 465.96 L351.68 466.05 L352.17 466.13 L352.67 466.18 L353.16 466.23 L353.66 466.25 L354.15 466.26 L354.64 466.25 L355.14 466.23 L355.63 466.18 L356.13 466.13 L356.62 466.05 L357.12 465.96 L357.61 465.85 L358.11 465.72 L358.6 465.58 L359.09 465.42 L359.59 465.25 L360.08 465.06 L360.58 464.85 L361.07 464.63 L361.57 464.39 L362.06 464.13 L362.55 463.86 L363.05 463.57 L363.54 463.27 L364.04 462.95 L364.53 462.61 L365.03 462.26 L365.52 461.9 L366.02 461.52 L366.51 461.12 L367 460.72 L367.5 460.29 L367.99 459.85 L368.49 459.4 L368.98 458.93 L369.48 458.45 L369.97 457.96 L370.47 457.45 L370.96 456.93 L371.45 456.39 L371.95 455.84 L372.44 455.28 L372.94 454.71 L373.43 454.12 L373.93 453.52 L374.42 452.91 L374.91 452.29 L375.41 451.65 L375.9 451.01 L376.4 450.35 L376.89 449.68 L377.39 449 L377.88 448.31 L378.38 447.6 L378.87 446.89 L379.36 446.17 L379.86 445.43 L380.35 444.69 L380.85 443.93 L381.34 443.17 L381.84 442.39 L382.33 441.61 L382.83 440.81 L383.32 440.01 L383.81 439.2 L384.31 438.38 L384.8 437.55 L385.3 436.71 L385.79 435.87 L386.29 435.01 L386.78 434.15 L387.27 433.28 L387.77 432.4 L388.26 431.51 L388.76 430.62 L389.25 429.72 L389.75 428.81 L390.24 427.89 L390.74 426.97 L391.23 426.04 L391.72 425.1 L392.22 424.16 L392.71 423.21 L393.21 422.25 L393.7 421.28 L394.2 420.32 L394.69 419.34 L395.19 418.36 L395.68 417.37 L396.17 416.38 L396.67 415.38 L397.16 414.37 L397.66 413.36 L398.15 412.35 L398.65 411.33 L399.14 410.3 L399.63 409.27 L400.13 408.23 L400.62 407.19 L401.12 406.14 L401.61 405.09 L402.11 404.04 L402.6 402.98 L403.1 401.91 L403.59 400.84 L404.08 399.77 L404.58 398.69 L405.07 397.61 L405.57 396.52 L406.06 395.43 L406.56 394.34 L407.05 393.24 L407.55 392.14 L408.04 391.03 L408.53 389.93 L409.03 388.81 L409.52 387.7 L410.02 386.58 L410.51 385.45 L411.01 384.32 L411.5 383.19 L411.99 382.06 L412.49 380.92 L412.98 379.78 L413.48 378.64 L413.97 377.49 L414.47 376.34 L414.96 375.19 L415.46 374.04 L415.95 372.88 L416.44 371.72 L416.94 370.55 L417.43 369.39 L417.93 368.22 L418.42 367.05 L418.92 365.87 L419.41 364.7 L419.91 363.52 L420.4 362.33 L420.89 361.15 L421.39 359.96 L421.88 358.77 L422.38 357.58 L422.87 356.39 L423.37 355.19 L423.86 353.99 L424.35 352.79 L424.85 351.59 L425.34 350.39 L425.84 349.18 L426.33 347.97 L426.83 346.76 L427.32 345.55 L427.82 344.33 L428.31 343.12 L428.8 341.9 L429.3 340.68 L429.79 339.45 L430.29 338.23 L430.78 337 L431.28 335.78 L431.77 334.55 L432.27 333.32 L432.76 332.08 L433.25 330.85 L433.75 329.61 L434.24 328.38 L434.74 327.14 L435.23 325.89 L435.73 324.65 L436.22 323.41 L436.71 322.16 L437.21 320.92 L437.7 319.67 L438.2 318.42 L438.69 317.17 L439.19 315.92 L439.68 314.66" stroke="#000" stroke-width="0.95" stroke-dasharray="2.6 0.6" fill="none"/></g>
<circle cx="276.3" cy="335.3" r="1.9" fill="#7a1010" stroke="#000" stroke-width="0.5"/>
<circle cx="432" cy="335" r="1.9" fill="#7a1010" stroke="#000" stroke-width="0.5"/>
<circle cx="296.7" cy="383.3" r="1.9" fill="#7a1010" stroke="#000" stroke-width="0.5"/>
<circle cx="412" cy="383.4" r="1.9" fill="#7a1010" stroke="#000" stroke-width="0.5"/>
<circle cx="316" cy="433.5" r="1.9" fill="#1c1c5e" stroke="#000" stroke-width="0.5"/>
<circle cx="321.5" cy="433.5" r="1.9" fill="#7a1010" stroke="#000" stroke-width="0.5"/>
<circle cx="386.9" cy="433.4" r="1.9" fill="#7a1010" stroke="#000" stroke-width="0.5"/>
<circle cx="391.9" cy="434" r="1.9" fill="#1c1c5e" stroke="#000" stroke-width="0.5"/>
<path d="M446.9 315.5 H261.4 V477.4 H446.9" stroke="#000" stroke-width="0.9" fill="none"/>
<path d="M261.4 325.4H265M261.4 363.4H265M261.4 401.4H265M261.4 439.4H265M261.4 477.4H265M292.35 477.4V473.8M292.35 315.5V319.1M323.25 477.4V473.8M323.25 315.5V319.1M354.15 477.4V473.8M354.15 315.5V319.1M415.95 477.4V473.8M415.95 315.5V319.1M443.3 467.4H446.9M443.3 448.4H446.9M443.3 429.4H446.9M443.3 410.4H446.9M443.3 391.4H446.9M443.3 372.4H446.9M443.3 353.4H446.9M443.3 334.4H446.9" stroke="#000" stroke-width="0.8"/>
<text x="452.8" y="470.5" font-family='Liberation Sans' font-size="9.8" text-anchor="start" >6</text>
<text x="452.8" y="451.5" font-family='Liberation Sans' font-size="9.8" text-anchor="start" >7</text>
<text x="452.8" y="432.5" font-family='Liberation Sans' font-size="9.8" text-anchor="start" >8</text>
<text x="452.8" y="413.5" font-family='Liberation Sans' font-size="9.8" text-anchor="start" >9</text>
<text x="452.8" y="394.5" font-family='Liberation Sans' font-size="9.8" text-anchor="start" >10</text>
<text x="452.8" y="375.5" font-family='Liberation Sans' font-size="9.8" text-anchor="start" >11</text>
<text x="452.8" y="356.5" font-family='Liberation Sans' font-size="9.8" text-anchor="start" >12</text>
<text x="452.8" y="337.5" font-family='Liberation Sans' font-size="9.8" text-anchor="start" >13</text>
<text x="452.8" y="318.5" font-family='Liberation Sans' font-size="9.8" text-anchor="start" >14</text>
<text x="262.05" y="489.8" font-family='Liberation Sans' font-size="9.8" text-anchor="middle" >−30</text>
<text x="292.95" y="489.8" font-family='Liberation Sans' font-size="9.8" text-anchor="middle" >−20</text>
<text x="323.85" y="489.8" font-family='Liberation Sans' font-size="9.8" text-anchor="middle" >−10</text>
<text x="354.75" y="489.8" font-family='Liberation Sans' font-size="9.8" text-anchor="middle" >0</text>
<text x="385.65" y="489.8" font-family='Liberation Sans' font-size="9.8" text-anchor="middle" >10</text>
<text x="416.55" y="489.8" font-family='Liberation Sans' font-size="9.8" text-anchor="middle" >20</text>
<text x="447.45" y="489.8" font-family='Liberation Sans' font-size="9.8" text-anchor="middle" >30</text>
<text x="476.8" y="398.3" font-family='Liberation Sans' font-size="9.5" text-anchor="middle" transform="rotate(-90 476.8 398.3)">Frequency (GHz)</text>
<path d="M300.5 412 L314.8 431.5 M305.4 451.6 L316.2 440" stroke="#000" stroke-width="0.8"/>
<rect x="264.2" y="393.3" width="61.2" height="18.5" rx="2.5" fill="#fff" stroke="#000" stroke-width="1"/>
<text x="267" y="400.8" font-family='Liberation Sans' font-size="7.3">Δ<tspan font-size="5.5" dy="1.8">q</tspan><tspan dy="-1.8">/2π = 5.3 GHz</tspan></text>
<text x="267" y="408.6" font-family='Liberation Sans' font-size="7.3">I<tspan font-size="5.5" dy="1.8">p</tspan><tspan dy="-1.8"> = 76 nA</tspan></text>
<rect x="264.2" y="454.2" width="61.6" height="18.5" rx="2.5" fill="#fff" stroke="#000" stroke-width="1"/>
<text x="267" y="461.8" font-family='Liberation Sans' font-size="7.3">Δ<tspan font-size="5.5" dy="1.8">q</tspan><tspan dy="-1.8">/2π = 6.1 GHz</tspan></text>
<text x="267" y="469.6" font-family='Liberation Sans' font-size="7.3">I<tspan font-size="5.5" dy="1.8">p</tspan><tspan dy="-1.8"> = 72 nA</tspan></text>
<text transform="translate(1.2 514.2) scale(0.85 1)" font-family='Liberation Sans' font-weight="bold" font-size="13.4" stroke="#000" stroke-width="0.45">c</text>
<g clip-path="url(#cc)"><path d="M41.3 573.1 L42.23 573.16 L43.54 573.2 L45.06 573.3 L46.64 573.54 L48.1 574 L49.51 574.76 L50.98 575.78 L52.41 576.91 L53.72 578.03 L54.8 579 L55.6 579.77 L56.18 580.44 L56.63 581.07 L57.04 581.73 L57.5 582.5 L58.01 583.39 L58.52 584.35 L59 585.36 L59.47 586.38 L59.9 587.4 L60.29 588.38 L60.65 589.35 L60.98 590.34 L61.3 591.37 L61.6 592.5 L61.89 593.7 L62.15 594.96 L62.41 596.29 L62.65 597.7 L62.9 599.2 L63.15 600.91 L63.4 602.83 L63.65 604.78 L63.88 606.56 L64.1 608 L64.31 609.06 L64.52 609.87 L64.72 610.48 L64.88 610.94 L65 611.3 L65.4 530.4 L65.52 530.93 L65.68 531.66 L65.88 532.54 L66.09 533.51 L66.3 534.5 L66.52 535.54 L66.76 536.68 L67.01 537.87 L67.26 539.09 L67.5 540.3 L67.72 541.53 L67.93 542.81 L68.14 544.09 L68.36 545.33 L68.6 546.5 L68.85 547.58 L69.11 548.58 L69.38 549.55 L69.68 550.51 L70 551.5 L70.36 552.54 L70.75 553.6 L71.16 554.66 L71.58 555.67 L72 556.6 L72.41 557.44 L72.81 558.21 L73.23 558.92 L73.69 559.58 L74.2 560.2 L74.77 560.77 L75.39 561.29 L76.06 561.77 L76.76 562.2 L77.5 562.6 L78.27 562.94 L79.06 563.22 L79.9 563.47 L80.8 563.72 L81.8 564 L82.83 564.32 L83.86 564.65 L85.01 564.99 L86.36 565.32 L88 565.6 L89.9 565.85 L92 566.07 L94.35 566.26 L97 566.44 L100 566.6 L103.59 566.74 L107.74 566.86 L112.08 566.96 L116.29 567.04 L120 567.1 L123.07 567.13 L125.72 567.14 L128.2 567.13 L130.71 567.11 L133.5 567.1 L136.63 567.09 L139.96 567.09 L143.36 567.07 L146.75 567.05 L150 567 L153.18 566.93 L156.35 566.84 L159.43 566.73 L162.34 566.62 L165 566.5 L167.4 566.37 L169.6 566.24 L171.6 566.1 L173.4 565.95 L175 565.8 L176.32 565.66 L177.36 565.53 L178.24 565.39 L179.08 565.22 L180 565 L181 564.74 L182 564.45 L182.99 564.12 L183.99 563.74 L185 563.3 L186.05 562.79 L187.14 562.21 L188.21 561.58 L189.22 560.94 L190.1 560.3 L190.83 559.69 L191.45 559.08 L192 558.46 L192.5 557.77 L193 557 L193.5 556.11 L193.97 555.12 L194.41 554.08 L194.82 553.03 L195.2 552 L195.54 551.03 L195.83 550.08 L196.1 549.12 L196.35 548.11 L196.6 547 L196.84 545.76 L197.05 544.42 L197.26 543.03 L197.47 541.64 L197.7 540.3 L197.95 538.98 L198.22 537.64 L198.5 536.34 L198.76 535.11 L199 534 L199.22 532.99 L199.43 532.04 L199.62 531.2 L199.78 530.51 L199.9 530 L200.9 611 L201.03 610.03 L201.2 608.66 L201.41 607.06 L201.62 605.45 L201.8 604 L201.95 602.76 L202.08 601.59 L202.2 600.44 L202.34 599.26 L202.5 598 L202.69 596.63 L202.91 595.19 L203.13 593.71 L203.37 592.23 L203.6 590.8 L203.83 589.38 L204.07 587.95 L204.31 586.55 L204.55 585.22 L204.8 584 L205.04 582.9 L205.28 581.88 L205.53 580.95 L205.8 580.09 L206.1 579.3 L206.44 578.58 L206.8 577.95 L207.18 577.38 L207.58 576.87 L208 576.4 L208.41 575.99 L208.82 575.65 L209.26 575.35 L209.74 575.07 L210.3 574.8 L210.93 574.52 L211.63 574.26 L212.38 574.01 L213.17 573.79 L214 573.6 L214.83 573.46 L215.68 573.35 L216.58 573.27 L217.58 573.19 L218.7 573.1 L220.11 572.99 L221.78 572.88 L223.48 572.76 L224.97 572.67 L226 572.6" stroke="#20207a" stroke-width="4" fill="none" stroke-linejoin="round" opacity="0.95"/><g fill="#20207a"><circle cx="43.25" cy="572.42" r="1.1"/><circle cx="42.62" cy="574.59" r="1.1"/><circle cx="44.5" cy="574.92" r="1.1"/><circle cx="45.86" cy="573.07" r="1.1"/><circle cx="46.15" cy="572.85" r="1.1"/><circle cx="47.31" cy="573.76" r="1.1"/><circle cx="48.38" cy="573.4" r="1.1"/><circle cx="48.87" cy="575.86" r="1.1"/><circle cx="50.58" cy="575" r="1.1"/><circle cx="51.25" cy="575.13" r="1.1"/><circle cx="51.47" cy="573.59" r="1.1"/><circle cx="51.68" cy="576.75" r="1.1"/><circle cx="53.62" cy="576.3" r="1.1"/><circle cx="54.82" cy="579.96" r="1.1"/><circle cx="54.23" cy="577.77" r="1.1"/><circle cx="55.25" cy="579.88" r="1.1"/><circle cx="56.51" cy="580.52" r="1.1"/><circle cx="55.66" cy="580.71" r="1.1"/><circle cx="57.08" cy="581.98" r="1.1"/><circle cx="56.61" cy="581.93" r="1.1"/><circle cx="57.43" cy="582.18" r="1.1"/><circle cx="58.92" cy="585.07" r="1.1"/><circle cx="59.09" cy="584.99" r="1.1"/><circle cx="58.83" cy="586.89" r="1.1"/><circle cx="59.03" cy="586.39" r="1.1"/><circle cx="59.74" cy="589.71" r="1.1"/><circle cx="60.18" cy="586.65" r="1.1"/><circle cx="60.59" cy="592.04" r="1.1"/><circle cx="60.9" cy="591.63" r="1.1"/><circle cx="61.7" cy="591.73" r="1.1"/><circle cx="60.88" cy="592.78" r="1.1"/><circle cx="61.11" cy="597.43" r="1.1"/><circle cx="61.96" cy="593.47" r="1.1"/><circle cx="62.28" cy="595.32" r="1.1"/><circle cx="62.23" cy="596.74" r="1.1"/><circle cx="62.7" cy="599.62" r="1.1"/><circle cx="62.61" cy="595.27" r="1.1"/><circle cx="63.79" cy="599.86" r="1.1"/><circle cx="63.55" cy="599.46" r="1.1"/><circle cx="62.81" cy="603.92" r="1.1"/><circle cx="62.78" cy="604.12" r="1.1"/><circle cx="63.41" cy="602.6" r="1.1"/><circle cx="62.74" cy="605.47" r="1.1"/><circle cx="63.19" cy="604.4" r="1.1"/><circle cx="64.74" cy="607.31" r="1.1"/><circle cx="63.93" cy="607.82" r="1.1"/><circle cx="64.23" cy="609.27" r="1.1"/><circle cx="64.21" cy="608.89" r="1.1"/><circle cx="65.02" cy="612.46" r="1.1"/><circle cx="65.72" cy="596.79" r="1.1"/><circle cx="65.12" cy="587.44" r="1.1"/><circle cx="64.83" cy="589.65" r="1.1"/><circle cx="65.76" cy="540.77" r="1.1"/><circle cx="64.61" cy="563.41" r="1.1"/><circle cx="65.61" cy="542.29" r="1.1"/><circle cx="65.33" cy="579.79" r="1.1"/><circle cx="66.14" cy="593.61" r="1.1"/><circle cx="65.36" cy="587.31" r="1.1"/><circle cx="66.49" cy="532.63" r="1.1"/><circle cx="65.04" cy="598.56" r="1.1"/><circle cx="64.98" cy="597.17" r="1.1"/><circle cx="65.83" cy="582.9" r="1.1"/><circle cx="65.48" cy="539.91" r="1.1"/><circle cx="65.29" cy="590.55" r="1.1"/><circle cx="64.65" cy="608.21" r="1.1"/><circle cx="65.25" cy="576.62" r="1.1"/><circle cx="64.98" cy="533.4" r="1.1"/><circle cx="64.78" cy="601.61" r="1.1"/><circle cx="65.5" cy="578.28" r="1.1"/><circle cx="65.02" cy="597.92" r="1.1"/><circle cx="64.69" cy="603.33" r="1.1"/><circle cx="65.16" cy="537.66" r="1.1"/><circle cx="65.99" cy="531.73" r="1.1"/><circle cx="65.28" cy="590.06" r="1.1"/><circle cx="65.6" cy="606.11" r="1.1"/><circle cx="64.72" cy="577.89" r="1.1"/><circle cx="64.73" cy="608.83" r="1.1"/><circle cx="64.49" cy="566.74" r="1.1"/><circle cx="65.95" cy="530.47" r="1.1"/><circle cx="64.94" cy="580.14" r="1.1"/><circle cx="65.01" cy="533.36" r="1.1"/><circle cx="66.28" cy="581.5" r="1.1"/><circle cx="64.11" cy="609.16" r="1.1"/><circle cx="64.73" cy="589.95" r="1.1"/><circle cx="65.18" cy="592.39" r="1.1"/><circle cx="65.57" cy="540.53" r="1.1"/><circle cx="64.87" cy="606.3" r="1.1"/><circle cx="64.84" cy="558.7" r="1.1"/><circle cx="66.22" cy="532.71" r="1.1"/><circle cx="64.67" cy="542.15" r="1.1"/><circle cx="65.47" cy="532.51" r="1.1"/><circle cx="64.73" cy="552.47" r="1.1"/><circle cx="64.48" cy="579.19" r="1.1"/><circle cx="64.96" cy="558.03" r="1.1"/><circle cx="65.33" cy="568.99" r="1.1"/><circle cx="65.58" cy="589.13" r="1.1"/><circle cx="64.73" cy="552.74" r="1.1"/><circle cx="65.81" cy="595.54" r="1.1"/><circle cx="64.61" cy="568.3" r="1.1"/><circle cx="65.35" cy="546.24" r="1.1"/><circle cx="64.64" cy="545.23" r="1.1"/><circle cx="66.12" cy="542.87" r="1.1"/><circle cx="64.32" cy="609.34" r="1.1"/><circle cx="65.53" cy="545.63" r="1.1"/><circle cx="65.48" cy="591.63" r="1.1"/><circle cx="64.78" cy="546.14" r="1.1"/><circle cx="63.69" cy="606.67" r="1.1"/><circle cx="64.74" cy="555.5" r="1.1"/><circle cx="65.34" cy="546.04" r="1.1"/><circle cx="64.87" cy="557.35" r="1.1"/><circle cx="64.78" cy="592.87" r="1.1"/><circle cx="65.49" cy="580.56" r="1.1"/><circle cx="65.52" cy="565.41" r="1.1"/><circle cx="65.22" cy="554.25" r="1.1"/><circle cx="65.21" cy="591.28" r="1.1"/><circle cx="65.47" cy="559.21" r="1.1"/><circle cx="65.35" cy="575.46" r="1.1"/><circle cx="65.67" cy="581.59" r="1.1"/><circle cx="65.05" cy="580.62" r="1.1"/><circle cx="64.62" cy="576.54" r="1.1"/><circle cx="64.65" cy="583.84" r="1.1"/><circle cx="65.85" cy="539.47" r="1.1"/><circle cx="64.77" cy="554.98" r="1.1"/><circle cx="65.89" cy="585.51" r="1.1"/><circle cx="64.57" cy="580.38" r="1.1"/><circle cx="65.37" cy="538.11" r="1.1"/><circle cx="64.7" cy="563.66" r="1.1"/><circle cx="64.85" cy="544.07" r="1.1"/><circle cx="64.82" cy="539.79" r="1.1"/><circle cx="65.54" cy="568.3" r="1.1"/><circle cx="65.37" cy="530.99" r="1.1"/><circle cx="65.01" cy="531.58" r="1.1"/><circle cx="66.3" cy="533.86" r="1.1"/><circle cx="66.2" cy="533.08" r="1.1"/><circle cx="66.33" cy="533.05" r="1.1"/><circle cx="66.2" cy="533.89" r="1.1"/><circle cx="67.36" cy="536.71" r="1.1"/><circle cx="65.34" cy="535.04" r="1.1"/><circle cx="67.41" cy="538.38" r="1.1"/><circle cx="67.29" cy="539.48" r="1.1"/><circle cx="67.66" cy="542.44" r="1.1"/><circle cx="67.76" cy="544.31" r="1.1"/><circle cx="67.32" cy="542.16" r="1.1"/><circle cx="67.61" cy="545.14" r="1.1"/><circle cx="68.56" cy="544.36" r="1.1"/><circle cx="69" cy="546.05" r="1.1"/><circle cx="67.89" cy="546.08" r="1.1"/><circle cx="68.15" cy="548.74" r="1.1"/><circle cx="69.46" cy="547.03" r="1.1"/><circle cx="68.88" cy="549.99" r="1.1"/><circle cx="69.1" cy="549.52" r="1.1"/><circle cx="69.88" cy="549.83" r="1.1"/><circle cx="70.47" cy="550.72" r="1.1"/><circle cx="71.03" cy="552.5" r="1.1"/><circle cx="71.61" cy="554.99" r="1.1"/><circle cx="72.38" cy="556.03" r="1.1"/><circle cx="71.35" cy="555.31" r="1.1"/><circle cx="71.55" cy="556.56" r="1.1"/><circle cx="72.27" cy="556.22" r="1.1"/><circle cx="73.17" cy="560.64" r="1.1"/><circle cx="73.59" cy="558.61" r="1.1"/><circle cx="74.98" cy="561.44" r="1.1"/><circle cx="74.73" cy="562.17" r="1.1"/><circle cx="76.2" cy="560.4" r="1.1"/><circle cx="76.89" cy="562.48" r="1.1"/><circle cx="77" cy="561.36" r="1.1"/><circle cx="78.07" cy="562.49" r="1.1"/><circle cx="80.15" cy="565.54" r="1.1"/><circle cx="80.35" cy="562.98" r="1.1"/><circle cx="82.09" cy="563.8" r="1.1"/><circle cx="81.31" cy="565.19" r="1.1"/><circle cx="82.85" cy="564.24" r="1.1"/><circle cx="84.33" cy="563.55" r="1.1"/><circle cx="86.63" cy="566.7" r="1.1"/><circle cx="86.65" cy="563.18" r="1.1"/><circle cx="87.49" cy="565.42" r="1.1"/><circle cx="88.66" cy="564.28" r="1.1"/><circle cx="90.25" cy="566.59" r="1.1"/><circle cx="91.2" cy="565.17" r="1.1"/><circle cx="90.34" cy="566.6" r="1.1"/><circle cx="91.98" cy="565.33" r="1.1"/><circle cx="94.83" cy="566.58" r="1.1"/><circle cx="93.6" cy="568.65" r="1.1"/><circle cx="96.51" cy="566.72" r="1.1"/><circle cx="95.55" cy="568.32" r="1.1"/><circle cx="94.92" cy="565.31" r="1.1"/><circle cx="96.99" cy="566.26" r="1.1"/><circle cx="98.81" cy="564.96" r="1.1"/><circle cx="98.97" cy="566.82" r="1.1"/><circle cx="100.19" cy="566.1" r="1.1"/><circle cx="101.78" cy="567.61" r="1.1"/><circle cx="102.54" cy="567.32" r="1.1"/><circle cx="107.02" cy="568.86" r="1.1"/><circle cx="106.93" cy="566.93" r="1.1"/><circle cx="104.16" cy="566.34" r="1.1"/><circle cx="105.4" cy="566.66" r="1.1"/><circle cx="110.09" cy="568.18" r="1.1"/><circle cx="109.72" cy="567.5" r="1.1"/><circle cx="109.57" cy="567.5" r="1.1"/><circle cx="109.19" cy="565.86" r="1.1"/><circle cx="112.8" cy="567.22" r="1.1"/><circle cx="114.3" cy="565.49" r="1.1"/><circle cx="115.09" cy="569" r="1.1"/><circle cx="112.72" cy="567.27" r="1.1"/><circle cx="113.32" cy="566.88" r="1.1"/><circle cx="120.16" cy="567.89" r="1.1"/><circle cx="116.43" cy="565.87" r="1.1"/><circle cx="119.27" cy="567.43" r="1.1"/><circle cx="118.66" cy="567.04" r="1.1"/><circle cx="121.57" cy="565.06" r="1.1"/><circle cx="121.26" cy="565.87" r="1.1"/><circle cx="124.01" cy="567.32" r="1.1"/><circle cx="123.98" cy="567.42" r="1.1"/><circle cx="123.64" cy="565.34" r="1.1"/><circle cx="125.94" cy="567.69" r="1.1"/><circle cx="126.3" cy="568.2" r="1.1"/><circle cx="129.02" cy="567.1" r="1.1"/><circle cx="128.53" cy="567.16" r="1.1"/><circle cx="130.49" cy="565.41" r="1.1"/><circle cx="130.58" cy="565.47" r="1.1"/><circle cx="133.57" cy="568.15" r="1.1"/><circle cx="132.37" cy="569.76" r="1.1"/><circle cx="135.6" cy="566.45" r="1.1"/><circle cx="137.1" cy="566.09" r="1.1"/><circle cx="136.28" cy="565.22" r="1.1"/><circle cx="137.74" cy="567.97" r="1.1"/><circle cx="139.53" cy="566.35" r="1.1"/><circle cx="138.64" cy="566.51" r="1.1"/><circle cx="141.21" cy="566.67" r="1.1"/><circle cx="141.01" cy="566.34" r="1.1"/><circle cx="140.28" cy="567.31" r="1.1"/><circle cx="142.27" cy="566.08" r="1.1"/><circle cx="145.09" cy="568.37" r="1.1"/><circle cx="145.56" cy="564.44" r="1.1"/><circle cx="145.98" cy="567.34" r="1.1"/><circle cx="149.1" cy="566.08" r="1.1"/><circle cx="149.14" cy="565.19" r="1.1"/><circle cx="146.67" cy="567.06" r="1.1"/><circle cx="147.31" cy="565.89" r="1.1"/><circle cx="151.48" cy="567.24" r="1.1"/><circle cx="150.09" cy="568.83" r="1.1"/><circle cx="151.91" cy="567.45" r="1.1"/><circle cx="153.87" cy="565.67" r="1.1"/><circle cx="155.36" cy="566.3" r="1.1"/><circle cx="156.24" cy="567.44" r="1.1"/><circle cx="156.75" cy="569.81" r="1.1"/><circle cx="157.64" cy="569.29" r="1.1"/><circle cx="158.62" cy="566.03" r="1.1"/><circle cx="161.46" cy="566.29" r="1.1"/><circle cx="162.66" cy="568.72" r="1.1"/><circle cx="159.89" cy="566.71" r="1.1"/><circle cx="163.33" cy="566.15" r="1.1"/><circle cx="164.49" cy="567.64" r="1.1"/><circle cx="161.67" cy="565.83" r="1.1"/><circle cx="165.41" cy="568.36" r="1.1"/><circle cx="167.05" cy="565.98" r="1.1"/><circle cx="167.59" cy="567.33" r="1.1"/><circle cx="167.82" cy="564.89" r="1.1"/><circle cx="169.61" cy="565.94" r="1.1"/><circle cx="170.94" cy="566.12" r="1.1"/><circle cx="174.25" cy="566.75" r="1.1"/><circle cx="172.32" cy="565.53" r="1.1"/><circle cx="175.23" cy="564.61" r="1.1"/><circle cx="175.03" cy="566.07" r="1.1"/><circle cx="176.19" cy="565.04" r="1.1"/><circle cx="175.91" cy="564.82" r="1.1"/><circle cx="176.75" cy="566.77" r="1.1"/><circle cx="178.62" cy="567.28" r="1.1"/><circle cx="178.85" cy="564.81" r="1.1"/><circle cx="180.44" cy="563" r="1.1"/><circle cx="180.73" cy="566.64" r="1.1"/><circle cx="182.56" cy="563.31" r="1.1"/><circle cx="182.32" cy="563.03" r="1.1"/><circle cx="184.63" cy="563.93" r="1.1"/><circle cx="185.75" cy="562.54" r="1.1"/><circle cx="187.06" cy="563.27" r="1.1"/><circle cx="187.05" cy="563.3" r="1.1"/><circle cx="188.49" cy="561.42" r="1.1"/><circle cx="188.84" cy="561.11" r="1.1"/><circle cx="189.28" cy="560.95" r="1.1"/><circle cx="189.9" cy="560.87" r="1.1"/><circle cx="191.39" cy="559.91" r="1.1"/><circle cx="191.04" cy="559.22" r="1.1"/><circle cx="192.9" cy="556.25" r="1.1"/><circle cx="193.1" cy="555.51" r="1.1"/><circle cx="193.36" cy="553.8" r="1.1"/><circle cx="193.36" cy="556.87" r="1.1"/><circle cx="194.03" cy="556.22" r="1.1"/><circle cx="194.54" cy="553.46" r="1.1"/><circle cx="194.71" cy="551.72" r="1.1"/><circle cx="195.48" cy="551.98" r="1.1"/><circle cx="194.76" cy="550.36" r="1.1"/><circle cx="195.24" cy="550.57" r="1.1"/><circle cx="195.88" cy="550.63" r="1.1"/><circle cx="196.08" cy="545.66" r="1.1"/><circle cx="195.85" cy="547.79" r="1.1"/><circle cx="196.72" cy="545.77" r="1.1"/><circle cx="196.82" cy="545.31" r="1.1"/><circle cx="196.64" cy="542.92" r="1.1"/><circle cx="197.62" cy="541.73" r="1.1"/><circle cx="198.02" cy="541.69" r="1.1"/><circle cx="198.03" cy="539.54" r="1.1"/><circle cx="197.31" cy="540.43" r="1.1"/><circle cx="198.52" cy="536.86" r="1.1"/><circle cx="198.89" cy="538" r="1.1"/><circle cx="197.36" cy="536.65" r="1.1"/><circle cx="198.7" cy="533.01" r="1.1"/><circle cx="199.11" cy="533.95" r="1.1"/><circle cx="198.96" cy="531.71" r="1.1"/><circle cx="199.9" cy="533.4" r="1.1"/><circle cx="199.54" cy="532.17" r="1.1"/><circle cx="200.28" cy="532.05" r="1.1"/><circle cx="201.03" cy="607.89" r="1.1"/><circle cx="201.46" cy="587.66" r="1.1"/><circle cx="200.93" cy="556.37" r="1.1"/><circle cx="200.01" cy="541.65" r="1.1"/><circle cx="199.49" cy="565.37" r="1.1"/><circle cx="200.05" cy="532.69" r="1.1"/><circle cx="199.81" cy="547.39" r="1.1"/><circle cx="199.91" cy="556.46" r="1.1"/><circle cx="200.94" cy="596.49" r="1.1"/><circle cx="200.59" cy="595.44" r="1.1"/><circle cx="201.26" cy="593.28" r="1.1"/><circle cx="200.97" cy="564.99" r="1.1"/><circle cx="200.19" cy="588.07" r="1.1"/><circle cx="200.11" cy="571.02" r="1.1"/><circle cx="201.67" cy="600.22" r="1.1"/><circle cx="200.16" cy="610.95" r="1.1"/><circle cx="199.71" cy="535.87" r="1.1"/><circle cx="200.03" cy="565.05" r="1.1"/><circle cx="200.18" cy="567.48" r="1.1"/><circle cx="200.24" cy="563.41" r="1.1"/><circle cx="200.1" cy="589.48" r="1.1"/><circle cx="200" cy="545.25" r="1.1"/><circle cx="199.44" cy="550.82" r="1.1"/><circle cx="200.86" cy="605.89" r="1.1"/><circle cx="200.68" cy="602.63" r="1.1"/><circle cx="199.98" cy="535.27" r="1.1"/><circle cx="200.64" cy="598.28" r="1.1"/><circle cx="199.98" cy="551.93" r="1.1"/><circle cx="200.96" cy="581.16" r="1.1"/><circle cx="200.16" cy="534.59" r="1.1"/><circle cx="200.98" cy="601.57" r="1.1"/><circle cx="200.23" cy="538.71" r="1.1"/><circle cx="199.18" cy="593.63" r="1.1"/><circle cx="200.97" cy="602.54" r="1.1"/><circle cx="200.89" cy="596.99" r="1.1"/><circle cx="200.12" cy="575.6" r="1.1"/><circle cx="201.24" cy="550.76" r="1.1"/><circle cx="201.93" cy="586.39" r="1.1"/><circle cx="200.28" cy="564.2" r="1.1"/><circle cx="200.86" cy="595.22" r="1.1"/><circle cx="200.06" cy="532.59" r="1.1"/><circle cx="201.22" cy="560.82" r="1.1"/><circle cx="200.54" cy="593.75" r="1.1"/><circle cx="200.6" cy="601.91" r="1.1"/><circle cx="199.49" cy="554.43" r="1.1"/><circle cx="200.17" cy="568.62" r="1.1"/><circle cx="200.55" cy="549.06" r="1.1"/><circle cx="199.79" cy="538.09" r="1.1"/><circle cx="199.46" cy="546.62" r="1.1"/><circle cx="200.39" cy="580.3" r="1.1"/><circle cx="199.94" cy="535.08" r="1.1"/><circle cx="199.77" cy="569.18" r="1.1"/><circle cx="200.66" cy="589.55" r="1.1"/><circle cx="200.32" cy="586.17" r="1.1"/><circle cx="200.66" cy="603.38" r="1.1"/><circle cx="200.5" cy="549.26" r="1.1"/><circle cx="200.51" cy="559.6" r="1.1"/><circle cx="200.53" cy="581.01" r="1.1"/><circle cx="200.88" cy="537.27" r="1.1"/><circle cx="200.29" cy="533.35" r="1.1"/><circle cx="200.97" cy="607.14" r="1.1"/><circle cx="200.11" cy="603.3" r="1.1"/><circle cx="200.22" cy="551.49" r="1.1"/><circle cx="201.73" cy="593.29" r="1.1"/><circle cx="200.96" cy="589.52" r="1.1"/><circle cx="199.83" cy="543.15" r="1.1"/><circle cx="201.54" cy="592.03" r="1.1"/><circle cx="200.28" cy="528.95" r="1.1"/><circle cx="200.03" cy="596.5" r="1.1"/><circle cx="200.56" cy="577.7" r="1.1"/><circle cx="199.56" cy="534.11" r="1.1"/><circle cx="201.12" cy="562.25" r="1.1"/><circle cx="200.36" cy="530.03" r="1.1"/><circle cx="200.88" cy="568.3" r="1.1"/><circle cx="199.89" cy="547.03" r="1.1"/><circle cx="200.43" cy="608.77" r="1.1"/><circle cx="199.87" cy="535.3" r="1.1"/><circle cx="201.13" cy="599.4" r="1.1"/><circle cx="200.22" cy="553.84" r="1.1"/><circle cx="201.35" cy="578.84" r="1.1"/><circle cx="200.13" cy="530.83" r="1.1"/><circle cx="200.49" cy="609.48" r="1.1"/><circle cx="200.53" cy="610.31" r="1.1"/><circle cx="201.84" cy="608.16" r="1.1"/><circle cx="202.18" cy="606.2" r="1.1"/><circle cx="202.3" cy="606.25" r="1.1"/><circle cx="200.66" cy="606.73" r="1.1"/><circle cx="202.16" cy="604.73" r="1.1"/><circle cx="201.9" cy="604.14" r="1.1"/><circle cx="201.75" cy="604.04" r="1.1"/><circle cx="202.73" cy="602.03" r="1.1"/><circle cx="202.27" cy="598.24" r="1.1"/><circle cx="202.34" cy="598.31" r="1.1"/><circle cx="202.29" cy="599.07" r="1.1"/><circle cx="203.4" cy="595.91" r="1.1"/><circle cx="202.67" cy="595.49" r="1.1"/><circle cx="203.05" cy="593.93" r="1.1"/><circle cx="203.13" cy="594.11" r="1.1"/><circle cx="202.63" cy="595.36" r="1.1"/><circle cx="203.69" cy="593.54" r="1.1"/><circle cx="202.37" cy="590.63" r="1.1"/><circle cx="204.12" cy="590.7" r="1.1"/><circle cx="204.12" cy="589.87" r="1.1"/><circle cx="203.97" cy="588.86" r="1.1"/><circle cx="203.57" cy="585.46" r="1.1"/><circle cx="203.41" cy="588.4" r="1.1"/><circle cx="204.46" cy="583.62" r="1.1"/><circle cx="204.61" cy="585.2" r="1.1"/><circle cx="204.82" cy="585.28" r="1.1"/><circle cx="204.62" cy="581.68" r="1.1"/><circle cx="204.57" cy="581.16" r="1.1"/><circle cx="205.53" cy="581.77" r="1.1"/><circle cx="205.36" cy="581.45" r="1.1"/><circle cx="204.82" cy="579.34" r="1.1"/><circle cx="206.56" cy="580.18" r="1.1"/><circle cx="207.21" cy="578.45" r="1.1"/><circle cx="207.55" cy="575.47" r="1.1"/><circle cx="209.26" cy="577.66" r="1.1"/><circle cx="209.03" cy="575.28" r="1.1"/><circle cx="210.35" cy="577.18" r="1.1"/><circle cx="211.3" cy="573.46" r="1.1"/><circle cx="212.04" cy="576.68" r="1.1"/><circle cx="212.15" cy="572.63" r="1.1"/><circle cx="213.84" cy="574.27" r="1.1"/><circle cx="215.41" cy="573.32" r="1.1"/><circle cx="215.95" cy="572.93" r="1.1"/><circle cx="217.62" cy="573.48" r="1.1"/><circle cx="218.19" cy="572.91" r="1.1"/><circle cx="220.29" cy="574.64" r="1.1"/><circle cx="218.65" cy="574.16" r="1.1"/><circle cx="220.31" cy="575.12" r="1.1"/><circle cx="221.64" cy="574.23" r="1.1"/><circle cx="222.28" cy="573.64" r="1.1"/><circle cx="223.58" cy="574.01" r="1.1"/><circle cx="224.29" cy="572.44" r="1.1"/><circle cx="225.84" cy="571.87" r="1.1"/><circle cx="66.6" cy="517.6" r="1.35"/><circle cx="66.3" cy="521.5" r="1.35"/><circle cx="65.3" cy="619.4" r="1.35"/><circle cx="65.1" cy="616" r="1.35"/><circle cx="198.5" cy="522.6" r="1.35"/><circle cx="198.7" cy="526" r="1.35"/><circle cx="201.5" cy="624.5" r="1.35"/><circle cx="201.3" cy="620.5" r="1.35"/><circle cx="65.6" cy="560" r="1.35"/><circle cx="65.5" cy="585" r="1.35"/><circle cx="200.4" cy="563" r="1.35"/><circle cx="200.6" cy="590" r="1.35"/></g><path d="M65.9 611.3 L66.3 530.4" stroke="#e8d070" stroke-width="1" fill="none"/><path d="M200.8 530 L201.8 611" stroke="#e8d070" stroke-width="1" fill="none"/><path d="M41.3 573.1 L42.23 573.16 L43.54 573.2 L45.06 573.3 L46.64 573.54 L48.1 574 L49.51 574.76 L50.98 575.78 L52.41 576.91 L53.72 578.03 L54.8 579 L55.6 579.77 L56.18 580.44 L56.63 581.07 L57.04 581.73 L57.5 582.5 L58.01 583.39 L58.52 584.35 L59 585.36 L59.47 586.38 L59.9 587.4 L60.29 588.38 L60.65 589.35 L60.98 590.34 L61.3 591.37 L61.6 592.5 L61.89 593.7 L62.15 594.96 L62.41 596.29 L62.65 597.7 L62.9 599.2 L63.15 600.91 L63.4 602.83 L63.65 604.78 L63.88 606.56 L64.1 608 L64.31 609.06 L64.52 609.87 L64.72 610.48 L64.88 610.94 L65 611.3 L65.4 530.4 L65.52 530.93 L65.68 531.66 L65.88 532.54 L66.09 533.51 L66.3 534.5 L66.52 535.54 L66.76 536.68 L67.01 537.87 L67.26 539.09 L67.5 540.3 L67.72 541.53 L67.93 542.81 L68.14 544.09 L68.36 545.33 L68.6 546.5 L68.85 547.58 L69.11 548.58 L69.38 549.55 L69.68 550.51 L70 551.5 L70.36 552.54 L70.75 553.6 L71.16 554.66 L71.58 555.67 L72 556.6 L72.41 557.44 L72.81 558.21 L73.23 558.92 L73.69 559.58 L74.2 560.2 L74.77 560.77 L75.39 561.29 L76.06 561.77 L76.76 562.2 L77.5 562.6 L78.27 562.94 L79.06 563.22 L79.9 563.47 L80.8 563.72 L81.8 564 L82.83 564.32 L83.86 564.65 L85.01 564.99 L86.36 565.32 L88 565.6 L89.9 565.85 L92 566.07 L94.35 566.26 L97 566.44 L100 566.6 L103.59 566.74 L107.74 566.86 L112.08 566.96 L116.29 567.04 L120 567.1 L123.07 567.13 L125.72 567.14 L128.2 567.13 L130.71 567.11 L133.5 567.1 L136.63 567.09 L139.96 567.09 L143.36 567.07 L146.75 567.05 L150 567 L153.18 566.93 L156.35 566.84 L159.43 566.73 L162.34 566.62 L165 566.5 L167.4 566.37 L169.6 566.24 L171.6 566.1 L173.4 565.95 L175 565.8 L176.32 565.66 L177.36 565.53 L178.24 565.39 L179.08 565.22 L180 565 L181 564.74 L182 564.45 L182.99 564.12 L183.99 563.74 L185 563.3 L186.05 562.79 L187.14 562.21 L188.21 561.58 L189.22 560.94 L190.1 560.3 L190.83 559.69 L191.45 559.08 L192 558.46 L192.5 557.77 L193 557 L193.5 556.11 L193.97 555.12 L194.41 554.08 L194.82 553.03 L195.2 552 L195.54 551.03 L195.83 550.08 L196.1 549.12 L196.35 548.11 L196.6 547 L196.84 545.76 L197.05 544.42 L197.26 543.03 L197.47 541.64 L197.7 540.3 L197.95 538.98 L198.22 537.64 L198.5 536.34 L198.76 535.11 L199 534 L199.22 532.99 L199.43 532.04 L199.62 531.2 L199.78 530.51 L199.9 530 L200.9 611 L201.03 610.03 L201.2 608.66 L201.41 607.06 L201.62 605.45 L201.8 604 L201.95 602.76 L202.08 601.59 L202.2 600.44 L202.34 599.26 L202.5 598 L202.69 596.63 L202.91 595.19 L203.13 593.71 L203.37 592.23 L203.6 590.8 L203.83 589.38 L204.07 587.95 L204.31 586.55 L204.55 585.22 L204.8 584 L205.04 582.9 L205.28 581.88 L205.53 580.95 L205.8 580.09 L206.1 579.3 L206.44 578.58 L206.8 577.95 L207.18 577.38 L207.58 576.87 L208 576.4 L208.41 575.99 L208.82 575.65 L209.26 575.35 L209.74 575.07 L210.3 574.8 L210.93 574.52 L211.63 574.26 L212.38 574.01 L213.17 573.79 L214 573.6 L214.83 573.46 L215.68 573.35 L216.58 573.27 L217.58 573.19 L218.7 573.1 L220.11 572.99 L221.78 572.88 L223.48 572.76 L224.97 572.67 L226 572.6" stroke="#f25a18" stroke-width="1.05" fill="none" stroke-linejoin="round"/></g>
<path d="M41.25 512.6 H225.3 V629.2 H41.25" stroke="#000" stroke-width="0.9" fill="none"/>
<path d="M41.25 541.3H45.2M41.25 570.5H45.2M225.3 541.3H221.5M46.1 629.2V625.2 M46.1 512.6V516.6M75.1 629.2V625.2 M75.1 512.6V516.6M104.1 629.2V625.2 M104.1 512.6V516.6M133.1 629.2V625.2 M133.1 512.6V516.6M162.1 629.2V625.2 M162.1 512.6V516.6M191.1 629.2V625.2 M191.1 512.6V516.6M220.1 629.2V625.2 M220.1 512.6V516.6" stroke="#000" stroke-width="0.8"/>
<text x="36.4" y="515" font-family='Liberation Sans' font-size="9.8" text-anchor="end" >0.2</text>
<text x="36.4" y="544.15" font-family='Liberation Sans' font-size="9.8" text-anchor="end" >0.1</text>
<text x="36.4" y="573.3" font-family='Liberation Sans' font-size="9.8" text-anchor="end" >0.0</text>
<text x="36.4" y="602.45" font-family='Liberation Sans' font-size="9.8" text-anchor="end" >−0.1</text>
<text x="36.4" y="631.6" font-family='Liberation Sans' font-size="9.8" text-anchor="end" >−0.2</text>
<text x="46.6" y="641" font-family='Liberation Sans' font-size="9.8" text-anchor="middle" >−15</text>
<text x="75.6" y="641" font-family='Liberation Sans' font-size="9.8" text-anchor="middle" >−10</text>
<text x="104.6" y="641" font-family='Liberation Sans' font-size="9.8" text-anchor="middle" >−5</text>
<text x="133.6" y="641" font-family='Liberation Sans' font-size="9.8" text-anchor="middle" >0</text>
<text x="162.6" y="641" font-family='Liberation Sans' font-size="9.8" text-anchor="middle" >5</text>
<text x="191.6" y="641" font-family='Liberation Sans' font-size="9.8" text-anchor="middle" >10</text>
<text x="220.6" y="641" font-family='Liberation Sans' font-size="9.8" text-anchor="middle" >15</text>
<text x="133.5" y="654" font-family='Liberation Sans' font-size="10" text-anchor="middle" >Φ − Φ<tspan font-size="7" dy="2">0</tspan><tspan dy="-2"> /2 (mΦ</tspan><tspan font-size="7" dy="2">0</tspan><tspan dy="-2">)</tspan></text>
<text x="7.2" y="567.8" font-family='Liberation Sans' font-size="9.5" text-anchor="middle" transform="rotate(-90 7.2 567.8)">Phase φ</text>
<path d="M95.7 591.3 L68.5 572.6" stroke="#000" stroke-width="0.7"/>
<path d="M67.3 571.7 L71.6 572.5 L70.2 574.6 Z" fill="#000"/>
<rect x="91.3" y="592.8" width="25.6" height="8.7" rx="2" fill="#fff" stroke="#000" stroke-width="0.8"/>
<text x="96" y="599.6" font-family='Liberation Sans' font-size="7" font-style="italic">η<tspan font-size="5" dy="1.5" font-style="normal">s</tspan><tspan dy="-1.5" font-style="normal"> = 8</tspan></text>
<text transform="translate(248.2 513.6) scale(0.85 1)" font-family='Liberation Sans' font-weight="bold" font-size="13.4" stroke="#000" stroke-width="0.45">d</text>
<g clip-path="url(#cd)"><path d="M261 573.5 L261.94 573.56 L263.27 573.62 L264.82 573.73 L266.39 573.91 L267.8 574.2 L269.07 574.62 L270.33 575.13 L271.54 575.73 L272.68 576.39 L273.7 577.1 L274.59 577.85 L275.38 578.65 L276.08 579.51 L276.75 580.46 L277.4 581.5 L278.06 582.68 L278.69 583.98 L279.29 585.35 L279.83 586.74 L280.3 588.1 L280.68 589.5 L280.98 590.99 L281.23 592.44 L281.46 593.72 L281.7 594.7 L281.96 595.32 L282.21 595.66 L282.45 595.83 L282.66 595.91 L282.8 596 L283.2 556.7 L283.49 557.5 L283.89 558.58 L284.36 559.91 L284.88 561.46 L285.4 563.2 L285.95 565.25 L286.54 567.62 L287.16 570.14 L287.75 572.66 L288.3 575 L288.8 577.15 L289.28 579.21 L289.73 581.23 L290.14 583.21 L290.5 585.2 L290.81 587.34 L291.07 589.62 L291.29 591.8 L291.47 593.67 L291.6 595 L292.4 536.2 L292.64 537.52 L292.97 539.39 L293.36 541.55 L293.79 543.74 L294.2 545.7 L294.59 547.44 L294.98 549.14 L295.4 550.77 L295.86 552.3 L296.4 553.7 L296.99 554.94 L297.63 556.06 L298.33 557.07 L299.11 558.01 L300 558.9 L301.03 559.74 L302.18 560.52 L303.42 561.24 L304.67 561.9 L305.9 562.5 L307 563.04 L307.99 563.5 L309.05 563.92 L310.34 564.31 L312 564.7 L313.9 565.1 L315.94 565.5 L318.32 565.88 L321.27 566.22 L325 566.5 L329.74 566.73 L335.35 566.92 L341.49 567.07 L347.82 567.16 L354 567.2 L360.36 567.18 L367.12 567.12 L373.8 567 L379.92 566.82 L385 566.6 L388.87 566.3 L391.84 565.91 L394.18 565.49 L396.15 565.08 L398 564.7 L399.64 564.42 L400.91 564.21 L401.93 563.98 L402.84 563.67 L403.8 563.2 L404.79 562.54 L405.73 561.76 L406.61 560.87 L407.43 559.91 L408.2 558.9 L408.9 557.86 L409.54 556.76 L410.12 555.59 L410.67 554.34 L411.2 553 L411.7 551.54 L412.18 549.96 L412.62 548.31 L413.02 546.64 L413.4 545 L413.75 543.26 L414.08 541.38 L414.38 539.56 L414.62 538 L414.8 536.9 L415.6 595 L415.88 593.67 L416.28 591.8 L416.75 589.62 L417.24 587.34 L417.7 585.2 L418.13 583.16 L418.57 581.08 L419.02 579 L419.46 576.96 L419.9 575 L420.34 573.16 L420.79 571.41 L421.24 569.7 L421.68 567.98 L422.1 566.2 L422.53 564.19 L422.97 561.99 L423.39 559.85 L423.75 558 L424 556.7 L424.8 596 L425.12 594.22 L425.56 591.65 L426.08 588.74 L426.64 585.94 L427.2 583.7 L427.74 582.08 L428.29 580.77 L428.88 579.7 L429.51 578.77 L430.2 577.9 L430.95 577.11 L431.75 576.46 L432.6 575.91 L433.52 575.44 L434.5 575 L435.56 574.6 L436.69 574.27 L437.88 574 L439.12 573.78 L440.4 573.6 L441.86 573.48 L443.49 573.42 L445.11 573.41 L446.52 573.41 L447.5 573.4" stroke="#20207a" stroke-width="4" fill="none" stroke-linejoin="round" opacity="0.95"/><g fill="#20207a"><circle cx="261.75" cy="573.79" r="1.1"/><circle cx="262.5" cy="573.07" r="1.1"/><circle cx="263.15" cy="573.73" r="1.1"/><circle cx="264.95" cy="573.99" r="1.1"/><circle cx="264.56" cy="574.77" r="1.1"/><circle cx="267.53" cy="574.03" r="1.1"/><circle cx="268.06" cy="572.75" r="1.1"/><circle cx="269.87" cy="574.01" r="1.1"/><circle cx="269.78" cy="574.16" r="1.1"/><circle cx="271.1" cy="577.38" r="1.1"/><circle cx="272.12" cy="576.34" r="1.1"/><circle cx="271.8" cy="576.81" r="1.1"/><circle cx="272.33" cy="576.75" r="1.1"/><circle cx="273.64" cy="576.28" r="1.1"/><circle cx="275.26" cy="577.81" r="1.1"/><circle cx="276.23" cy="578.92" r="1.1"/><circle cx="276.98" cy="580.2" r="1.1"/><circle cx="276.22" cy="580.01" r="1.1"/><circle cx="276.5" cy="579.91" r="1.1"/><circle cx="277.89" cy="578.94" r="1.1"/><circle cx="278.82" cy="582.75" r="1.1"/><circle cx="278.78" cy="584.64" r="1.1"/><circle cx="279.21" cy="584.51" r="1.1"/><circle cx="279.93" cy="585.94" r="1.1"/><circle cx="279.66" cy="587.41" r="1.1"/><circle cx="280.57" cy="587.08" r="1.1"/><circle cx="281.77" cy="589.29" r="1.1"/><circle cx="280.16" cy="590.06" r="1.1"/><circle cx="279.42" cy="591.1" r="1.1"/><circle cx="281.34" cy="594.12" r="1.1"/><circle cx="281.83" cy="592.7" r="1.1"/><circle cx="281.71" cy="592.48" r="1.1"/><circle cx="281.15" cy="595.61" r="1.1"/><circle cx="281.75" cy="595.84" r="1.1"/><circle cx="283.82" cy="563.46" r="1.1"/><circle cx="282.29" cy="586.3" r="1.1"/><circle cx="283.33" cy="568.71" r="1.1"/><circle cx="283.12" cy="591.09" r="1.1"/><circle cx="282.2" cy="590.39" r="1.1"/><circle cx="283.5" cy="561.47" r="1.1"/><circle cx="282.4" cy="588.74" r="1.1"/><circle cx="283.53" cy="578.79" r="1.1"/><circle cx="283.53" cy="561.94" r="1.1"/><circle cx="283.04" cy="559.19" r="1.1"/><circle cx="283.24" cy="560.19" r="1.1"/><circle cx="282.6" cy="587.66" r="1.1"/><circle cx="282.61" cy="562.5" r="1.1"/><circle cx="283.39" cy="561.01" r="1.1"/><circle cx="283.28" cy="576.45" r="1.1"/><circle cx="282.29" cy="569.02" r="1.1"/><circle cx="283.48" cy="560.49" r="1.1"/><circle cx="283.35" cy="592.08" r="1.1"/><circle cx="282.74" cy="588" r="1.1"/><circle cx="282.49" cy="587.79" r="1.1"/><circle cx="283.81" cy="570.26" r="1.1"/><circle cx="282.31" cy="571.78" r="1.1"/><circle cx="283.69" cy="564.66" r="1.1"/><circle cx="282.89" cy="567.68" r="1.1"/><circle cx="283.72" cy="588.37" r="1.1"/><circle cx="281.75" cy="588.12" r="1.1"/><circle cx="281.81" cy="589.51" r="1.1"/><circle cx="283.25" cy="562.57" r="1.1"/><circle cx="282.5" cy="580.11" r="1.1"/><circle cx="282.91" cy="591.81" r="1.1"/><circle cx="283.17" cy="585.69" r="1.1"/><circle cx="282.79" cy="580.27" r="1.1"/><circle cx="283.65" cy="572.56" r="1.1"/><circle cx="282.79" cy="580.79" r="1.1"/><circle cx="282.78" cy="589.13" r="1.1"/><circle cx="283.33" cy="570.41" r="1.1"/><circle cx="283.28" cy="555.91" r="1.1"/><circle cx="282.54" cy="569.36" r="1.1"/><circle cx="283.47" cy="559.95" r="1.1"/><circle cx="282.89" cy="586.4" r="1.1"/><circle cx="283.97" cy="555.2" r="1.1"/><circle cx="283.75" cy="558.33" r="1.1"/><circle cx="284.08" cy="558.34" r="1.1"/><circle cx="284.71" cy="560.04" r="1.1"/><circle cx="285.08" cy="561.01" r="1.1"/><circle cx="284.66" cy="558.48" r="1.1"/><circle cx="285.77" cy="563.33" r="1.1"/><circle cx="286.2" cy="566.06" r="1.1"/><circle cx="285.46" cy="565.4" r="1.1"/><circle cx="286.22" cy="566.78" r="1.1"/><circle cx="286.11" cy="565.89" r="1.1"/><circle cx="286.8" cy="568.31" r="1.1"/><circle cx="286.97" cy="568.53" r="1.1"/><circle cx="287.28" cy="571.41" r="1.1"/><circle cx="287.77" cy="571.77" r="1.1"/><circle cx="286.97" cy="573.14" r="1.1"/><circle cx="288.14" cy="571.13" r="1.1"/><circle cx="287.53" cy="572.48" r="1.1"/><circle cx="288.43" cy="572.31" r="1.1"/><circle cx="289.03" cy="576.48" r="1.1"/><circle cx="288.8" cy="576.81" r="1.1"/><circle cx="289.63" cy="579.42" r="1.1"/><circle cx="288.89" cy="578.9" r="1.1"/><circle cx="289.5" cy="579.99" r="1.1"/><circle cx="289.68" cy="581.65" r="1.1"/><circle cx="289.75" cy="580.95" r="1.1"/><circle cx="290.22" cy="584.01" r="1.1"/><circle cx="290.36" cy="585.23" r="1.1"/><circle cx="290.35" cy="581.43" r="1.1"/><circle cx="291.58" cy="586.19" r="1.1"/><circle cx="290.28" cy="587.62" r="1.1"/><circle cx="290.66" cy="587.14" r="1.1"/><circle cx="290.54" cy="587.39" r="1.1"/><circle cx="291.45" cy="588.53" r="1.1"/><circle cx="291.55" cy="591.03" r="1.1"/><circle cx="290.67" cy="592.2" r="1.1"/><circle cx="291.42" cy="592.23" r="1.1"/><circle cx="290.87" cy="592.83" r="1.1"/><circle cx="291.33" cy="593.27" r="1.1"/><circle cx="291.07" cy="576.56" r="1.1"/><circle cx="291.84" cy="550.65" r="1.1"/><circle cx="292.98" cy="539.79" r="1.1"/><circle cx="291" cy="589.3" r="1.1"/><circle cx="293.19" cy="579.41" r="1.1"/><circle cx="292.71" cy="542.49" r="1.1"/><circle cx="292.04" cy="559.01" r="1.1"/><circle cx="292.27" cy="549.58" r="1.1"/><circle cx="291.49" cy="590.29" r="1.1"/><circle cx="292.76" cy="538.66" r="1.1"/><circle cx="292.37" cy="550.27" r="1.1"/><circle cx="291.97" cy="592.11" r="1.1"/><circle cx="292.42" cy="546.66" r="1.1"/><circle cx="291.81" cy="550.51" r="1.1"/><circle cx="291.76" cy="590.95" r="1.1"/><circle cx="291.64" cy="590.09" r="1.1"/><circle cx="292.78" cy="541.8" r="1.1"/><circle cx="292.04" cy="538.16" r="1.1"/><circle cx="291.8" cy="565.74" r="1.1"/><circle cx="292.14" cy="590.21" r="1.1"/><circle cx="291.86" cy="587.7" r="1.1"/><circle cx="291.78" cy="581.77" r="1.1"/><circle cx="292.98" cy="538.65" r="1.1"/><circle cx="292.24" cy="577.87" r="1.1"/><circle cx="292.07" cy="576.07" r="1.1"/><circle cx="292.68" cy="545.5" r="1.1"/><circle cx="291.67" cy="592.75" r="1.1"/><circle cx="292.74" cy="541.8" r="1.1"/><circle cx="292.44" cy="544.25" r="1.1"/><circle cx="291.56" cy="574.28" r="1.1"/><circle cx="292.18" cy="573.31" r="1.1"/><circle cx="291.73" cy="542.43" r="1.1"/><circle cx="292.32" cy="541.93" r="1.1"/><circle cx="292.85" cy="537.47" r="1.1"/><circle cx="292.21" cy="549.99" r="1.1"/><circle cx="291.53" cy="579.14" r="1.1"/><circle cx="292.69" cy="546.74" r="1.1"/><circle cx="292.07" cy="574.22" r="1.1"/><circle cx="292.87" cy="543.37" r="1.1"/><circle cx="292.48" cy="586.07" r="1.1"/><circle cx="292.05" cy="554.89" r="1.1"/><circle cx="291.77" cy="543.44" r="1.1"/><circle cx="292.05" cy="573" r="1.1"/><circle cx="292.4" cy="544.92" r="1.1"/><circle cx="292.16" cy="580.97" r="1.1"/><circle cx="291.72" cy="592.65" r="1.1"/><circle cx="292.41" cy="591.66" r="1.1"/><circle cx="291.27" cy="583.62" r="1.1"/><circle cx="292.65" cy="547.52" r="1.1"/><circle cx="292.55" cy="556.99" r="1.1"/><circle cx="292.28" cy="541.07" r="1.1"/><circle cx="292.09" cy="543.36" r="1.1"/><circle cx="292.36" cy="559.18" r="1.1"/><circle cx="291.1" cy="567.78" r="1.1"/><circle cx="292.26" cy="556.97" r="1.1"/><circle cx="292.64" cy="573.16" r="1.1"/><circle cx="291.81" cy="587.49" r="1.1"/><circle cx="291.35" cy="561.04" r="1.1"/><circle cx="292.45" cy="570.56" r="1.1"/><circle cx="292.71" cy="536.19" r="1.1"/><circle cx="292.68" cy="535.77" r="1.1"/><circle cx="293.87" cy="535.41" r="1.1"/><circle cx="292.57" cy="541.61" r="1.1"/><circle cx="293.46" cy="542.37" r="1.1"/><circle cx="293.47" cy="541.51" r="1.1"/><circle cx="292.85" cy="542.75" r="1.1"/><circle cx="295.59" cy="540.41" r="1.1"/><circle cx="294.11" cy="544.11" r="1.1"/><circle cx="293.36" cy="544.88" r="1.1"/><circle cx="293.81" cy="549.29" r="1.1"/><circle cx="295.26" cy="548" r="1.1"/><circle cx="295.95" cy="547.22" r="1.1"/><circle cx="295.78" cy="549.34" r="1.1"/><circle cx="294.43" cy="547.79" r="1.1"/><circle cx="295.29" cy="550.87" r="1.1"/><circle cx="295.49" cy="553.38" r="1.1"/><circle cx="296.16" cy="553.03" r="1.1"/><circle cx="296.43" cy="552.17" r="1.1"/><circle cx="297.12" cy="556.65" r="1.1"/><circle cx="296.24" cy="553.57" r="1.1"/><circle cx="297.08" cy="555.28" r="1.1"/><circle cx="298.73" cy="555.94" r="1.1"/><circle cx="299.95" cy="555.93" r="1.1"/><circle cx="300.56" cy="558.5" r="1.1"/><circle cx="300.9" cy="559.88" r="1.1"/><circle cx="302.16" cy="561.31" r="1.1"/><circle cx="303.42" cy="560.96" r="1.1"/><circle cx="304.39" cy="562.54" r="1.1"/><circle cx="303.03" cy="562.23" r="1.1"/><circle cx="305.23" cy="562.8" r="1.1"/><circle cx="306.15" cy="563.52" r="1.1"/><circle cx="307.73" cy="564.52" r="1.1"/><circle cx="308" cy="563.01" r="1.1"/><circle cx="308.67" cy="564.04" r="1.1"/><circle cx="310" cy="564.72" r="1.1"/><circle cx="310.06" cy="561.35" r="1.1"/><circle cx="310.69" cy="565.47" r="1.1"/><circle cx="312.49" cy="563.73" r="1.1"/><circle cx="312.72" cy="563.58" r="1.1"/><circle cx="314.39" cy="563.53" r="1.1"/><circle cx="313.85" cy="563.28" r="1.1"/><circle cx="316.51" cy="566.07" r="1.1"/><circle cx="316.83" cy="564.04" r="1.1"/><circle cx="321.41" cy="567.11" r="1.1"/><circle cx="321" cy="564.62" r="1.1"/><circle cx="319.67" cy="568.55" r="1.1"/><circle cx="323.06" cy="566.81" r="1.1"/><circle cx="322.41" cy="564.96" r="1.1"/><circle cx="321.11" cy="567.45" r="1.1"/><circle cx="322.42" cy="568.29" r="1.1"/><circle cx="325.53" cy="566.03" r="1.1"/><circle cx="327.59" cy="566.8" r="1.1"/><circle cx="326.16" cy="565.26" r="1.1"/><circle cx="325.9" cy="567.42" r="1.1"/><circle cx="327.25" cy="565.81" r="1.1"/><circle cx="330.83" cy="568.72" r="1.1"/><circle cx="330.6" cy="566.53" r="1.1"/><circle cx="331.67" cy="567.56" r="1.1"/><circle cx="330.59" cy="567.17" r="1.1"/><circle cx="331.14" cy="564.88" r="1.1"/><circle cx="341.54" cy="566.56" r="1.1"/><circle cx="341.97" cy="568.51" r="1.1"/><circle cx="338.31" cy="568.85" r="1.1"/><circle cx="340.45" cy="567.39" r="1.1"/><circle cx="340.72" cy="565.43" r="1.1"/><circle cx="341.51" cy="567.16" r="1.1"/><circle cx="343.05" cy="567.34" r="1.1"/><circle cx="345.7" cy="567.59" r="1.1"/><circle cx="342.06" cy="565.95" r="1.1"/><circle cx="346.73" cy="569.72" r="1.1"/><circle cx="343.94" cy="567.69" r="1.1"/><circle cx="344.56" cy="566.47" r="1.1"/><circle cx="346.1" cy="567.81" r="1.1"/><circle cx="348.27" cy="568.75" r="1.1"/><circle cx="347.44" cy="566.82" r="1.1"/><circle cx="347.2" cy="567.95" r="1.1"/><circle cx="350.39" cy="567.93" r="1.1"/><circle cx="351.27" cy="568.21" r="1.1"/><circle cx="354.35" cy="565.14" r="1.1"/><circle cx="357.76" cy="567.77" r="1.1"/><circle cx="356.42" cy="567.09" r="1.1"/><circle cx="359.24" cy="565.78" r="1.1"/><circle cx="354.19" cy="566.02" r="1.1"/><circle cx="357.53" cy="566.37" r="1.1"/><circle cx="357.81" cy="566.45" r="1.1"/><circle cx="366.31" cy="566.43" r="1.1"/><circle cx="362.78" cy="569.74" r="1.1"/><circle cx="365.94" cy="564.97" r="1.1"/><circle cx="366.89" cy="566.14" r="1.1"/><circle cx="365.43" cy="568.78" r="1.1"/><circle cx="361.79" cy="566.09" r="1.1"/><circle cx="362.4" cy="566.93" r="1.1"/><circle cx="373.35" cy="566.32" r="1.1"/><circle cx="371.23" cy="565.86" r="1.1"/><circle cx="369.99" cy="568.28" r="1.1"/><circle cx="367.74" cy="566.55" r="1.1"/><circle cx="369.73" cy="568.67" r="1.1"/><circle cx="370.01" cy="566.15" r="1.1"/><circle cx="371.86" cy="566.59" r="1.1"/><circle cx="376.76" cy="566.09" r="1.1"/><circle cx="377.72" cy="568.02" r="1.1"/><circle cx="381.07" cy="565.36" r="1.1"/><circle cx="375.59" cy="565.97" r="1.1"/><circle cx="377.48" cy="567.52" r="1.1"/><circle cx="376.79" cy="566.51" r="1.1"/><circle cx="380.52" cy="566.13" r="1.1"/><circle cx="384.78" cy="567.85" r="1.1"/><circle cx="382.65" cy="566.07" r="1.1"/><circle cx="382.89" cy="567.32" r="1.1"/><circle cx="384.62" cy="566.93" r="1.1"/><circle cx="385.97" cy="564.53" r="1.1"/><circle cx="384.58" cy="566.89" r="1.1"/><circle cx="387.72" cy="565.29" r="1.1"/><circle cx="388.71" cy="566.91" r="1.1"/><circle cx="391.52" cy="566.51" r="1.1"/><circle cx="390.2" cy="566.72" r="1.1"/><circle cx="390.77" cy="566.29" r="1.1"/><circle cx="392.73" cy="565.37" r="1.1"/><circle cx="392.95" cy="563.45" r="1.1"/><circle cx="395.28" cy="564.09" r="1.1"/><circle cx="395.65" cy="565.33" r="1.1"/><circle cx="398.1" cy="563.03" r="1.1"/><circle cx="397.59" cy="566.13" r="1.1"/><circle cx="400.45" cy="563.83" r="1.1"/><circle cx="398.01" cy="563.26" r="1.1"/><circle cx="400.29" cy="564.9" r="1.1"/><circle cx="400.99" cy="564.14" r="1.1"/><circle cx="401.47" cy="563.19" r="1.1"/><circle cx="403.95" cy="565.52" r="1.1"/><circle cx="405.53" cy="562.11" r="1.1"/><circle cx="403.79" cy="560.89" r="1.1"/><circle cx="405.65" cy="561.11" r="1.1"/><circle cx="405.83" cy="562.33" r="1.1"/><circle cx="406.4" cy="559.47" r="1.1"/><circle cx="407.97" cy="557.91" r="1.1"/><circle cx="408.45" cy="556.79" r="1.1"/><circle cx="408.58" cy="557.01" r="1.1"/><circle cx="408.88" cy="560.2" r="1.1"/><circle cx="409.86" cy="556.4" r="1.1"/><circle cx="409.81" cy="555.31" r="1.1"/><circle cx="411.64" cy="555.2" r="1.1"/><circle cx="410.57" cy="550.93" r="1.1"/><circle cx="411.36" cy="549.84" r="1.1"/><circle cx="412.21" cy="551.92" r="1.1"/><circle cx="411.91" cy="551.44" r="1.1"/><circle cx="411.25" cy="551.25" r="1.1"/><circle cx="412.47" cy="548.81" r="1.1"/><circle cx="413.11" cy="550.02" r="1.1"/><circle cx="413.02" cy="547.75" r="1.1"/><circle cx="412.92" cy="545.09" r="1.1"/><circle cx="413.1" cy="544.36" r="1.1"/><circle cx="414.11" cy="541.92" r="1.1"/><circle cx="413.78" cy="542.1" r="1.1"/><circle cx="413.32" cy="544.31" r="1.1"/><circle cx="415.95" cy="539.5" r="1.1"/><circle cx="414.1" cy="539.66" r="1.1"/><circle cx="414.11" cy="538.07" r="1.1"/><circle cx="414.77" cy="537.67" r="1.1"/><circle cx="415.32" cy="547.38" r="1.1"/><circle cx="415.76" cy="584.63" r="1.1"/><circle cx="414.78" cy="569.82" r="1.1"/><circle cx="415.41" cy="568.52" r="1.1"/><circle cx="415.21" cy="563.47" r="1.1"/><circle cx="415.16" cy="550.16" r="1.1"/><circle cx="414.38" cy="542.45" r="1.1"/><circle cx="415.1" cy="555.55" r="1.1"/><circle cx="415.61" cy="574.69" r="1.1"/><circle cx="415.81" cy="565.38" r="1.1"/><circle cx="415.13" cy="547.62" r="1.1"/><circle cx="415.68" cy="557.09" r="1.1"/><circle cx="414.92" cy="562.85" r="1.1"/><circle cx="415.56" cy="592.01" r="1.1"/><circle cx="414.55" cy="556.99" r="1.1"/><circle cx="415.09" cy="578.24" r="1.1"/><circle cx="415.53" cy="541.16" r="1.1"/><circle cx="415.71" cy="575.95" r="1.1"/><circle cx="414.4" cy="540.25" r="1.1"/><circle cx="414.84" cy="540.95" r="1.1"/><circle cx="415.57" cy="568.12" r="1.1"/><circle cx="415.03" cy="561.63" r="1.1"/><circle cx="415.88" cy="589.36" r="1.1"/><circle cx="415.19" cy="560.53" r="1.1"/><circle cx="415.8" cy="576.8" r="1.1"/><circle cx="414.84" cy="551.62" r="1.1"/><circle cx="414.92" cy="559" r="1.1"/><circle cx="415.49" cy="546.59" r="1.1"/><circle cx="415.79" cy="594.19" r="1.1"/><circle cx="414.87" cy="566.14" r="1.1"/><circle cx="414.43" cy="575.88" r="1.1"/><circle cx="415.87" cy="552.97" r="1.1"/><circle cx="415.54" cy="565.48" r="1.1"/><circle cx="414.6" cy="542.58" r="1.1"/><circle cx="415.41" cy="570.44" r="1.1"/><circle cx="415.45" cy="577.9" r="1.1"/><circle cx="415.68" cy="556.14" r="1.1"/><circle cx="414.93" cy="580.42" r="1.1"/><circle cx="415" cy="557.27" r="1.1"/><circle cx="415.54" cy="593.77" r="1.1"/><circle cx="414.72" cy="539.84" r="1.1"/><circle cx="415.88" cy="575.91" r="1.1"/><circle cx="415.74" cy="579.33" r="1.1"/><circle cx="415.48" cy="575.92" r="1.1"/><circle cx="416.26" cy="554.6" r="1.1"/><circle cx="415.79" cy="554.25" r="1.1"/><circle cx="414.37" cy="585.5" r="1.1"/><circle cx="415.93" cy="573.82" r="1.1"/><circle cx="414.39" cy="548.16" r="1.1"/><circle cx="414.65" cy="557.52" r="1.1"/><circle cx="415.34" cy="572.02" r="1.1"/><circle cx="414.68" cy="566.09" r="1.1"/><circle cx="415.57" cy="576.85" r="1.1"/><circle cx="415.12" cy="551.07" r="1.1"/><circle cx="415.05" cy="582.18" r="1.1"/><circle cx="415.06" cy="590.6" r="1.1"/><circle cx="414.39" cy="554.86" r="1.1"/><circle cx="414.65" cy="584.67" r="1.1"/><circle cx="414.52" cy="549.61" r="1.1"/><circle cx="415.15" cy="596.15" r="1.1"/><circle cx="416.27" cy="593.15" r="1.1"/><circle cx="415.77" cy="590.72" r="1.1"/><circle cx="416.44" cy="589.52" r="1.1"/><circle cx="416.23" cy="591.91" r="1.1"/><circle cx="416.49" cy="587.15" r="1.1"/><circle cx="417.34" cy="586.6" r="1.1"/><circle cx="418.09" cy="587.97" r="1.1"/><circle cx="417.1" cy="585.85" r="1.1"/><circle cx="416.58" cy="586.92" r="1.1"/><circle cx="418.67" cy="581.41" r="1.1"/><circle cx="417.51" cy="584.8" r="1.1"/><circle cx="418.68" cy="581.78" r="1.1"/><circle cx="419.12" cy="581.47" r="1.1"/><circle cx="419.35" cy="578.36" r="1.1"/><circle cx="419.07" cy="582.12" r="1.1"/><circle cx="419.97" cy="580" r="1.1"/><circle cx="418.67" cy="579.07" r="1.1"/><circle cx="420.06" cy="576.61" r="1.1"/><circle cx="420.11" cy="576.3" r="1.1"/><circle cx="419.86" cy="575.17" r="1.1"/><circle cx="420.22" cy="574.08" r="1.1"/><circle cx="420.33" cy="571.34" r="1.1"/><circle cx="421.11" cy="570.74" r="1.1"/><circle cx="420.34" cy="570.21" r="1.1"/><circle cx="421.81" cy="569.39" r="1.1"/><circle cx="421.04" cy="567.74" r="1.1"/><circle cx="421.83" cy="568.77" r="1.1"/><circle cx="421.15" cy="569.2" r="1.1"/><circle cx="422.52" cy="565.89" r="1.1"/><circle cx="422.49" cy="566.08" r="1.1"/><circle cx="423.56" cy="563.87" r="1.1"/><circle cx="422.78" cy="564.47" r="1.1"/><circle cx="423.34" cy="560.93" r="1.1"/><circle cx="423.23" cy="562.84" r="1.1"/><circle cx="423.64" cy="559.06" r="1.1"/><circle cx="423.6" cy="558.6" r="1.1"/><circle cx="423.82" cy="556.37" r="1.1"/><circle cx="424.47" cy="557.43" r="1.1"/><circle cx="424.39" cy="565.06" r="1.1"/><circle cx="423.71" cy="561.21" r="1.1"/><circle cx="424.22" cy="578.47" r="1.1"/><circle cx="424.72" cy="576.9" r="1.1"/><circle cx="423.93" cy="576.81" r="1.1"/><circle cx="424.95" cy="592.93" r="1.1"/><circle cx="423.93" cy="572.18" r="1.1"/><circle cx="424.41" cy="579.33" r="1.1"/><circle cx="424.6" cy="594.67" r="1.1"/><circle cx="424.09" cy="582.29" r="1.1"/><circle cx="424.52" cy="568.71" r="1.1"/><circle cx="424.79" cy="572.8" r="1.1"/><circle cx="424.71" cy="574" r="1.1"/><circle cx="424.05" cy="583.23" r="1.1"/><circle cx="424.32" cy="564.56" r="1.1"/><circle cx="424.09" cy="590.77" r="1.1"/><circle cx="424.26" cy="560.83" r="1.1"/><circle cx="424.28" cy="582.26" r="1.1"/><circle cx="424.48" cy="575.96" r="1.1"/><circle cx="424.38" cy="581.19" r="1.1"/><circle cx="424.97" cy="583.28" r="1.1"/><circle cx="423.7" cy="563.38" r="1.1"/><circle cx="424.82" cy="579.37" r="1.1"/><circle cx="424.78" cy="581.7" r="1.1"/><circle cx="423.88" cy="582.89" r="1.1"/><circle cx="424.3" cy="586.98" r="1.1"/><circle cx="424.67" cy="572.73" r="1.1"/><circle cx="424.24" cy="587.29" r="1.1"/><circle cx="425.09" cy="593.24" r="1.1"/><circle cx="423.99" cy="560.68" r="1.1"/><circle cx="425.54" cy="593.06" r="1.1"/><circle cx="424.39" cy="566.6" r="1.1"/><circle cx="424.57" cy="589.21" r="1.1"/><circle cx="423.84" cy="592.52" r="1.1"/><circle cx="423.58" cy="583.27" r="1.1"/><circle cx="424.53" cy="564.03" r="1.1"/><circle cx="423.93" cy="558.1" r="1.1"/><circle cx="423.88" cy="559.11" r="1.1"/><circle cx="424.02" cy="563.91" r="1.1"/><circle cx="425.93" cy="593.01" r="1.1"/><circle cx="424.28" cy="595.03" r="1.1"/><circle cx="426.06" cy="592.53" r="1.1"/><circle cx="425.47" cy="592.86" r="1.1"/><circle cx="425.39" cy="588.43" r="1.1"/><circle cx="426.49" cy="590.6" r="1.1"/><circle cx="425.93" cy="589.01" r="1.1"/><circle cx="426.58" cy="587.93" r="1.1"/><circle cx="426.68" cy="585.87" r="1.1"/><circle cx="426.19" cy="587.31" r="1.1"/><circle cx="427.22" cy="585.13" r="1.1"/><circle cx="426.81" cy="584.8" r="1.1"/><circle cx="427.03" cy="581.8" r="1.1"/><circle cx="427.51" cy="584.19" r="1.1"/><circle cx="427.87" cy="580.1" r="1.1"/><circle cx="428.67" cy="583.61" r="1.1"/><circle cx="427.69" cy="580.18" r="1.1"/><circle cx="428.92" cy="578.41" r="1.1"/><circle cx="430.4" cy="578.6" r="1.1"/><circle cx="430.19" cy="577.53" r="1.1"/><circle cx="431.52" cy="577.99" r="1.1"/><circle cx="431.87" cy="575.58" r="1.1"/><circle cx="432.72" cy="574.99" r="1.1"/><circle cx="434.74" cy="576.64" r="1.1"/><circle cx="435.38" cy="573.28" r="1.1"/><circle cx="435.43" cy="573.55" r="1.1"/><circle cx="436.63" cy="574.16" r="1.1"/><circle cx="436.3" cy="575" r="1.1"/><circle cx="438.24" cy="576.34" r="1.1"/><circle cx="439.8" cy="574.32" r="1.1"/><circle cx="441.45" cy="574.8" r="1.1"/><circle cx="440.63" cy="574.06" r="1.1"/><circle cx="444.37" cy="573.72" r="1.1"/><circle cx="443.01" cy="573.96" r="1.1"/><circle cx="444.08" cy="573.22" r="1.1"/><circle cx="445.93" cy="575.22" r="1.1"/><circle cx="444.79" cy="572.64" r="1.1"/><circle cx="446.7" cy="573.46" r="1.1"/><circle cx="283.9" cy="549.4" r="1.35"/><circle cx="283.7" cy="553" r="1.35"/><circle cx="293.4" cy="521.6" r="1.35"/><circle cx="293.4" cy="527.4" r="1.35"/><circle cx="293.2" cy="531" r="1.35"/><circle cx="282.5" cy="599.8" r="1.35"/><circle cx="291.2" cy="601.3" r="1.35"/><circle cx="291.4" cy="597.5" r="1.35"/><circle cx="414.4" cy="526" r="1.35"/><circle cx="414.4" cy="532.5" r="1.35"/><circle cx="416.3" cy="604.2" r="1.35"/><circle cx="425.8" cy="603.4" r="1.35"/><circle cx="423.6" cy="545" r="1.35"/><circle cx="423.6" cy="548.6" r="1.35"/><circle cx="417" cy="597.6" r="1.35"/><circle cx="283.5" cy="575" r="1.35"/><circle cx="283.6" cy="568" r="1.35"/><circle cx="292.8" cy="575" r="1.35"/><circle cx="292.6" cy="585" r="1.35"/><circle cx="415.9" cy="560" r="1.35"/><circle cx="416" cy="575" r="1.35"/><circle cx="424.6" cy="575" r="1.35"/><circle cx="424.7" cy="585" r="1.35"/><circle cx="418.4" cy="604.4" r="1.35"/></g><path d="M283.7 596 L284.1 556.7" stroke="#e8d070" stroke-width="1" fill="none"/><path d="M292.5 595 L293.3 536.2" stroke="#e8d070" stroke-width="1" fill="none"/><path d="M415.7 536.9 L416.5 595" stroke="#e8d070" stroke-width="1" fill="none"/><path d="M424.9 556.7 L425.7 596" stroke="#e8d070" stroke-width="1" fill="none"/><path d="M261 573.5 L261.94 573.56 L263.27 573.62 L264.82 573.73 L266.39 573.91 L267.8 574.2 L269.07 574.62 L270.33 575.13 L271.54 575.73 L272.68 576.39 L273.7 577.1 L274.59 577.85 L275.38 578.65 L276.08 579.51 L276.75 580.46 L277.4 581.5 L278.06 582.68 L278.69 583.98 L279.29 585.35 L279.83 586.74 L280.3 588.1 L280.68 589.5 L280.98 590.99 L281.23 592.44 L281.46 593.72 L281.7 594.7 L281.96 595.32 L282.21 595.66 L282.45 595.83 L282.66 595.91 L282.8 596 L283.2 556.7 L283.49 557.5 L283.89 558.58 L284.36 559.91 L284.88 561.46 L285.4 563.2 L285.95 565.25 L286.54 567.62 L287.16 570.14 L287.75 572.66 L288.3 575 L288.8 577.15 L289.28 579.21 L289.73 581.23 L290.14 583.21 L290.5 585.2 L290.81 587.34 L291.07 589.62 L291.29 591.8 L291.47 593.67 L291.6 595 L292.4 536.2 L292.64 537.52 L292.97 539.39 L293.36 541.55 L293.79 543.74 L294.2 545.7 L294.59 547.44 L294.98 549.14 L295.4 550.77 L295.86 552.3 L296.4 553.7 L296.99 554.94 L297.63 556.06 L298.33 557.07 L299.11 558.01 L300 558.9 L301.03 559.74 L302.18 560.52 L303.42 561.24 L304.67 561.9 L305.9 562.5 L307 563.04 L307.99 563.5 L309.05 563.92 L310.34 564.31 L312 564.7 L313.9 565.1 L315.94 565.5 L318.32 565.88 L321.27 566.22 L325 566.5 L329.74 566.73 L335.35 566.92 L341.49 567.07 L347.82 567.16 L354 567.2 L360.36 567.18 L367.12 567.12 L373.8 567 L379.92 566.82 L385 566.6 L388.87 566.3 L391.84 565.91 L394.18 565.49 L396.15 565.08 L398 564.7 L399.64 564.42 L400.91 564.21 L401.93 563.98 L402.84 563.67 L403.8 563.2 L404.79 562.54 L405.73 561.76 L406.61 560.87 L407.43 559.91 L408.2 558.9 L408.9 557.86 L409.54 556.76 L410.12 555.59 L410.67 554.34 L411.2 553 L411.7 551.54 L412.18 549.96 L412.62 548.31 L413.02 546.64 L413.4 545 L413.75 543.26 L414.08 541.38 L414.38 539.56 L414.62 538 L414.8 536.9 L415.6 595 L415.88 593.67 L416.28 591.8 L416.75 589.62 L417.24 587.34 L417.7 585.2 L418.13 583.16 L418.57 581.08 L419.02 579 L419.46 576.96 L419.9 575 L420.34 573.16 L420.79 571.41 L421.24 569.7 L421.68 567.98 L422.1 566.2 L422.53 564.19 L422.97 561.99 L423.39 559.85 L423.75 558 L424 556.7 L424.8 596 L425.12 594.22 L425.56 591.65 L426.08 588.74 L426.64 585.94 L427.2 583.7 L427.74 582.08 L428.29 580.77 L428.88 579.7 L429.51 578.77 L430.2 577.9 L430.95 577.11 L431.75 576.46 L432.6 575.91 L433.52 575.44 L434.5 575 L435.56 574.6 L436.69 574.27 L437.88 574 L439.12 573.78 L440.4 573.6 L441.86 573.48 L443.49 573.42 L445.11 573.41 L446.52 573.41 L447.5 573.4" stroke="#f25a18" stroke-width="1.05" fill="none" stroke-linejoin="round"/></g>
<path d="M447.3 512.6 H261.25 V629.2 H447.3" stroke="#000" stroke-width="0.9" fill="none"/>
<path d="M261.25 541.3H265.2 M447.3 541.3H443.3M296.5 629.2V625.2 M296.5 512.6V516.6M325.3 629.2V625.2 M325.3 512.6V516.6M354.1 629.2V625.2 M354.1 512.6V516.6M411.7 629.2V625.2 M411.7 512.6V516.6" stroke="#000" stroke-width="0.8"/>
<text x="268.2" y="641" font-family='Liberation Sans' font-size="9.8" text-anchor="middle" >−15</text>
<text x="297" y="641" font-family='Liberation Sans' font-size="9.8" text-anchor="middle" >−10</text>
<text x="325.8" y="641" font-family='Liberation Sans' font-size="9.8" text-anchor="middle" >−5</text>
<text x="354.6" y="641" font-family='Liberation Sans' font-size="9.8" text-anchor="middle" >0</text>
<text x="383.4" y="641" font-family='Liberation Sans' font-size="9.8" text-anchor="middle" >5</text>
<text x="412.2" y="641" font-family='Liberation Sans' font-size="9.8" text-anchor="middle" >10</text>
<text x="441" y="641" font-family='Liberation Sans' font-size="9.8" text-anchor="middle" >15</text>
<text x="353.5" y="654" font-family='Liberation Sans' font-size="10" text-anchor="middle" >Φ − Φ<tspan font-size="7" dy="2">0</tspan><tspan dy="-2"> /2 (mΦ</tspan><tspan font-size="7" dy="2">0</tspan><tspan dy="-2">)</tspan></text>
<path d="M315 582.4 L295.8 572.8 M318.6 600.6 L285.8 572.2" stroke="#000" stroke-width="0.7"/>
<path d="M294.6 572.2 L298.8 572.6 L297.8 574.8 Z" fill="#000"/>
<rect x="311.3" y="583.8" width="27" height="8.8" rx="2" fill="#fff" stroke="#000" stroke-width="0.8"/>
<text x="315.5" y="590.6" font-family='Liberation Sans' font-size="7" font-style="italic">η<tspan font-size="5" dy="1.5" font-style="normal">l</tspan><tspan dy="-1.5" font-style="normal"> = 4</tspan></text>
<rect x="311.3" y="603.3" width="27" height="9" rx="2" fill="#fff" stroke="#000" stroke-width="0.8"/>
<text x="315.5" y="610.2" font-family='Liberation Sans' font-size="7" font-style="italic">η<tspan font-size="5" dy="1.5" font-style="normal">h</tspan><tspan dy="-1.5" font-style="normal"> = 4</tspan></text>
<text x="240" y="680" text-anchor="middle" font-family='Liberation Serif' font-size="11.5">(b)</text>
</svg>
</body></html>
